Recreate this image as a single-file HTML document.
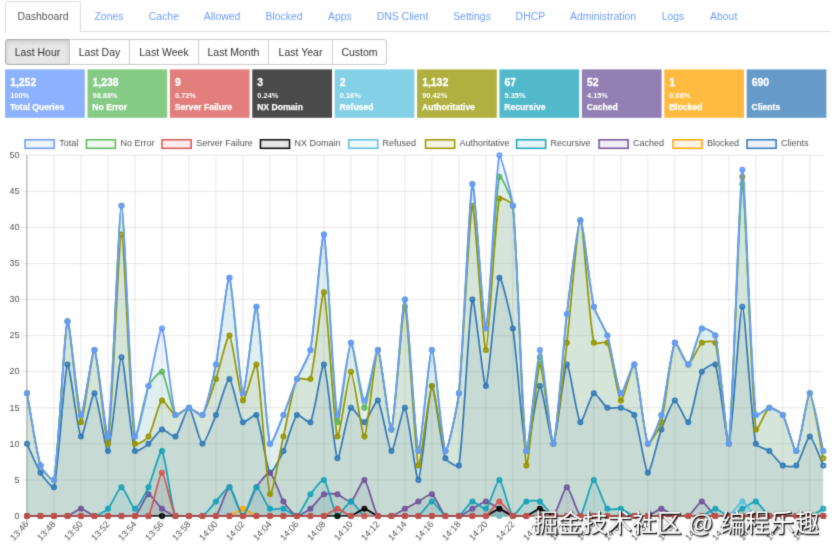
<!DOCTYPE html>
<html lang="en"><head><meta charset="utf-8"><title>Technitium DNS Server</title>
<style>
html,body{margin:0;padding:0;background:#fff;}
#page{position:absolute;left:0;top:0;width:837px;height:555px;overflow:hidden;background:#fff;filter:url(#soft);}
body{width:837px;height:555px;position:relative;overflow:hidden;font-family:"Liberation Sans","Noto Sans CJK SC",sans-serif;font-size:11px;color:#333;}
.abs{position:absolute;white-space:nowrap;}
.tabline{position:absolute;left:5px;top:31px;width:824.5px;height:1px;background:#ddd;}
.tabact{position:absolute;left:5px;top:1px;width:74px;height:30px;border:1px solid #ddd;border-bottom-color:#fff;border-radius:3px 3px 0 0;background:#fff;box-sizing:content-box;}
.tab{position:absolute;top:10px;font-size:10.45px;line-height:13px;color:#6f9dfb;white-space:nowrap;transform:translateX(-50%);}
.tab.on{color:#555;}
.btn{position:absolute;top:39px;height:26px;box-sizing:border-box;border:1px solid #ccc;background:#fff;font-size:10.5px;line-height:24.6px;text-align:center;color:#333;white-space:nowrap;}
.btn.on{background:#e6e6e6;border-color:#adadad;box-shadow:inset 0 2px 4px rgba(0,0,0,.125);}
.st{position:absolute;z-index:2;top:69.4px;height:48.4px;width:79.7px;color:#fff;font-weight:bold;}
.st .n{position:absolute;left:5.1px;top:7.6px;-webkit-text-stroke:0.3px #fff;font-size:10.4px;line-height:12px;}
.st .p{position:absolute;left:5.1px;top:21.29px;font-size:7.4px;line-height:9px;}
.st .t{-webkit-text-stroke:0.25px #fff;position:absolute;left:4.9px;top:32.27px;font-size:8.6px;line-height:10px;white-space:nowrap;}
.tk{font-size:9px;fill:#525252;font-family:"Liberation Sans",sans-serif;}
.lg{font-size:9px;fill:#525252;font-family:"Liberation Sans",sans-serif;}
.wm{position:absolute;z-index:3;left:533.5px;top:509px;font-size:24.7px;line-height:30px;color:#fff;white-space:nowrap;letter-spacing:0px;text-shadow:1px 1px 0.5px rgba(0,0,0,.9),0 0 1.5px rgba(0,0,0,.55),1.5px 1.5px 1.5px rgba(0,0,0,.4);font-family:"Liberation Sans","Noto Sans CJK SC",sans-serif;}
</style></head><body>
<svg width="0" height="0" style="position:absolute"><defs><filter id="soft" x="0" y="0" width="100%" height="100%" color-interpolation-filters="sRGB"><feConvolveMatrix order="3" kernelMatrix="0.01960 0.10080 0.01960 0.10080 0.51840 0.10080 0.01960 0.10080 0.01960" divisor="1" edgeMode="duplicate" preserveAlpha="false"/></filter></defs></svg>
<div id="page">

<div class="tabline"></div><div class="tabact"></div>
<a class="tab on" style="left:43.0px">Dashboard</a>
<a class="tab" style="left:109.0px">Zones</a>
<a class="tab" style="left:163.9px">Cache</a>
<a class="tab" style="left:222.1px">Allowed</a>
<a class="tab" style="left:284.1px">Blocked</a>
<a class="tab" style="left:339.9px">Apps</a>
<a class="tab" style="left:402.5px">DNS Client</a>
<a class="tab" style="left:472.0px">Settings</a>
<a class="tab" style="left:530.4px">DHCP</a>
<a class="tab" style="left:603.0px">Administration</a>
<a class="tab" style="left:673.0px">Logs</a>
<a class="tab" style="left:723.7px">About</a>
<div class="btn on" style="left:5.0px;width:65.0px;border-radius:3px 0 0 3px;">Last Hour</div>
<div class="btn" style="left:69.0px;width:61.0px;">Last Day</div>
<div class="btn" style="left:129.0px;width:70.0px;">Last Week</div>
<div class="btn" style="left:198.0px;width:71.0px;">Last Month</div>
<div class="btn" style="left:268.0px;width:65.0px;">Last Year</div>
<div class="btn" style="left:332.0px;width:55.0px;border-radius:0 3px 3px 0;">Custom</div>
<div class="st" style="left:5.08px"><div class="n">1,252</div><div class="p">100%</div><div class="t">Total Queries</div></div>
<div class="st" style="left:87.48px"><div class="n">1,238</div><div class="p">98.88%</div><div class="t">No Error</div></div>
<div class="st" style="left:169.88px"><div class="n">9</div><div class="p">0.72%</div><div class="t">Server Failure</div></div>
<div class="st" style="left:252.28px"><div class="n">3</div><div class="p">0.24%</div><div class="t">NX Domain</div></div>
<div class="st" style="left:334.68px"><div class="n">2</div><div class="p">0.16%</div><div class="t">Refused</div></div>
<div class="st" style="left:417.08px"><div class="n">1,132</div><div class="p">90.42%</div><div class="t">Authoritative</div></div>
<div class="st" style="left:499.48px"><div class="n">67</div><div class="p">5.35%</div><div class="t">Recursive</div></div>
<div class="st" style="left:581.88px"><div class="n">52</div><div class="p">4.15%</div><div class="t">Cached</div></div>
<div class="st" style="left:664.28px"><div class="n">1</div><div class="p">0.08%</div><div class="t">Blocked</div></div>
<div class="st" style="left:746.68px"><div class="n">690</div><div class="p"></div><div class="t">Clients</div></div>
<svg width="837" height="555" viewBox="0 0 837 555" style="position:absolute;left:0;top:0">
<defs><clipPath id="ca"><rect x="26.70" y="154.80" width="796.90" height="361.65"/></clipPath></defs>
<line x1="20.50" y1="516.00" x2="823.30" y2="516.00" stroke="rgba(0,0,0,0.12)" stroke-width="0.8"/><line x1="20.50" y1="479.92" x2="823.30" y2="479.92" stroke="rgba(0,0,0,0.12)" stroke-width="0.8"/><line x1="20.50" y1="443.84" x2="823.30" y2="443.84" stroke="rgba(0,0,0,0.12)" stroke-width="0.8"/><line x1="20.50" y1="407.76" x2="823.30" y2="407.76" stroke="rgba(0,0,0,0.12)" stroke-width="0.8"/><line x1="20.50" y1="371.68" x2="823.30" y2="371.68" stroke="rgba(0,0,0,0.12)" stroke-width="0.8"/><line x1="20.50" y1="335.60" x2="823.30" y2="335.60" stroke="rgba(0,0,0,0.12)" stroke-width="0.8"/><line x1="20.50" y1="299.52" x2="823.30" y2="299.52" stroke="rgba(0,0,0,0.12)" stroke-width="0.8"/><line x1="20.50" y1="263.44" x2="823.30" y2="263.44" stroke="rgba(0,0,0,0.12)" stroke-width="0.8"/><line x1="20.50" y1="227.36" x2="823.30" y2="227.36" stroke="rgba(0,0,0,0.12)" stroke-width="0.8"/><line x1="20.50" y1="191.28" x2="823.30" y2="191.28" stroke="rgba(0,0,0,0.12)" stroke-width="0.8"/><line x1="20.50" y1="155.20" x2="823.30" y2="155.20" stroke="rgba(0,0,0,0.12)" stroke-width="0.8"/><line x1="26.85" y1="155.20" x2="26.85" y2="523.50" stroke="rgba(0,0,0,0.3)" stroke-width="1.3"/><line x1="53.99" y1="155.20" x2="53.99" y2="523.50" stroke="rgba(0,0,0,0.12)" stroke-width="0.8"/><line x1="80.99" y1="155.20" x2="80.99" y2="523.50" stroke="rgba(0,0,0,0.12)" stroke-width="0.8"/><line x1="107.98" y1="155.20" x2="107.98" y2="523.50" stroke="rgba(0,0,0,0.12)" stroke-width="0.8"/><line x1="134.97" y1="155.20" x2="134.97" y2="523.50" stroke="rgba(0,0,0,0.12)" stroke-width="0.8"/><line x1="161.97" y1="155.20" x2="161.97" y2="523.50" stroke="rgba(0,0,0,0.12)" stroke-width="0.8"/><line x1="188.96" y1="155.20" x2="188.96" y2="523.50" stroke="rgba(0,0,0,0.12)" stroke-width="0.8"/><line x1="215.95" y1="155.20" x2="215.95" y2="523.50" stroke="rgba(0,0,0,0.12)" stroke-width="0.8"/><line x1="242.95" y1="155.20" x2="242.95" y2="523.50" stroke="rgba(0,0,0,0.12)" stroke-width="0.8"/><line x1="269.94" y1="155.20" x2="269.94" y2="523.50" stroke="rgba(0,0,0,0.12)" stroke-width="0.8"/><line x1="296.93" y1="155.20" x2="296.93" y2="523.50" stroke="rgba(0,0,0,0.12)" stroke-width="0.8"/><line x1="323.93" y1="155.20" x2="323.93" y2="523.50" stroke="rgba(0,0,0,0.12)" stroke-width="0.8"/><line x1="350.92" y1="155.20" x2="350.92" y2="523.50" stroke="rgba(0,0,0,0.12)" stroke-width="0.8"/><line x1="377.91" y1="155.20" x2="377.91" y2="523.50" stroke="rgba(0,0,0,0.12)" stroke-width="0.8"/><line x1="404.91" y1="155.20" x2="404.91" y2="523.50" stroke="rgba(0,0,0,0.12)" stroke-width="0.8"/><line x1="431.90" y1="155.20" x2="431.90" y2="523.50" stroke="rgba(0,0,0,0.12)" stroke-width="0.8"/><line x1="458.89" y1="155.20" x2="458.89" y2="523.50" stroke="rgba(0,0,0,0.12)" stroke-width="0.8"/><line x1="485.88" y1="155.20" x2="485.88" y2="523.50" stroke="rgba(0,0,0,0.12)" stroke-width="0.8"/><line x1="512.88" y1="155.20" x2="512.88" y2="523.50" stroke="rgba(0,0,0,0.12)" stroke-width="0.8"/><line x1="539.87" y1="155.20" x2="539.87" y2="523.50" stroke="rgba(0,0,0,0.12)" stroke-width="0.8"/><line x1="566.86" y1="155.20" x2="566.86" y2="523.50" stroke="rgba(0,0,0,0.12)" stroke-width="0.8"/><line x1="593.86" y1="155.20" x2="593.86" y2="523.50" stroke="rgba(0,0,0,0.12)" stroke-width="0.8"/><line x1="620.85" y1="155.20" x2="620.85" y2="523.50" stroke="rgba(0,0,0,0.12)" stroke-width="0.8"/><line x1="647.84" y1="155.20" x2="647.84" y2="523.50" stroke="rgba(0,0,0,0.12)" stroke-width="0.8"/><line x1="674.84" y1="155.20" x2="674.84" y2="523.50" stroke="rgba(0,0,0,0.12)" stroke-width="0.8"/><line x1="701.83" y1="155.20" x2="701.83" y2="523.50" stroke="rgba(0,0,0,0.12)" stroke-width="0.8"/><line x1="728.82" y1="155.20" x2="728.82" y2="523.50" stroke="rgba(0,0,0,0.12)" stroke-width="0.8"/><line x1="755.82" y1="155.20" x2="755.82" y2="523.50" stroke="rgba(0,0,0,0.12)" stroke-width="0.8"/><line x1="782.81" y1="155.20" x2="782.81" y2="523.50" stroke="rgba(0,0,0,0.12)" stroke-width="0.8"/><line x1="809.80" y1="155.20" x2="809.80" y2="523.50" stroke="rgba(0,0,0,0.12)" stroke-width="0.8"/>
<text x="19.4" y="518.7" text-anchor="end" class="tk">0</text>
<text x="19.4" y="482.6" text-anchor="end" class="tk">5</text>
<text x="19.4" y="446.5" text-anchor="end" class="tk">10</text>
<text x="19.4" y="410.5" text-anchor="end" class="tk">15</text>
<text x="19.4" y="374.4" text-anchor="end" class="tk">20</text>
<text x="19.4" y="338.3" text-anchor="end" class="tk">25</text>
<text x="19.4" y="302.2" text-anchor="end" class="tk">30</text>
<text x="19.4" y="266.1" text-anchor="end" class="tk">35</text>
<text x="19.4" y="230.1" text-anchor="end" class="tk">40</text>
<text x="19.4" y="194.0" text-anchor="end" class="tk">45</text>
<text x="19.4" y="157.9" text-anchor="end" class="tk">50</text>
<text transform="translate(29.2,524.6) rotate(-48)" text-anchor="end" class="tk">13:46</text>
<text transform="translate(56.2,524.6) rotate(-48)" text-anchor="end" class="tk">13:48</text>
<text transform="translate(83.2,524.6) rotate(-48)" text-anchor="end" class="tk">13:50</text>
<text transform="translate(110.2,524.6) rotate(-48)" text-anchor="end" class="tk">13:52</text>
<text transform="translate(137.2,524.6) rotate(-48)" text-anchor="end" class="tk">13:54</text>
<text transform="translate(164.2,524.6) rotate(-48)" text-anchor="end" class="tk">13:56</text>
<text transform="translate(191.2,524.6) rotate(-48)" text-anchor="end" class="tk">13:58</text>
<text transform="translate(218.2,524.6) rotate(-48)" text-anchor="end" class="tk">14:00</text>
<text transform="translate(245.1,524.6) rotate(-48)" text-anchor="end" class="tk">14:02</text>
<text transform="translate(272.1,524.6) rotate(-48)" text-anchor="end" class="tk">14:04</text>
<text transform="translate(299.1,524.6) rotate(-48)" text-anchor="end" class="tk">14:06</text>
<text transform="translate(326.1,524.6) rotate(-48)" text-anchor="end" class="tk">14:08</text>
<text transform="translate(353.1,524.6) rotate(-48)" text-anchor="end" class="tk">14:10</text>
<text transform="translate(380.1,524.6) rotate(-48)" text-anchor="end" class="tk">14:12</text>
<text transform="translate(407.1,524.6) rotate(-48)" text-anchor="end" class="tk">14:14</text>
<text transform="translate(434.1,524.6) rotate(-48)" text-anchor="end" class="tk">14:16</text>
<text transform="translate(461.1,524.6) rotate(-48)" text-anchor="end" class="tk">14:18</text>
<text transform="translate(488.1,524.6) rotate(-48)" text-anchor="end" class="tk">14:20</text>
<text transform="translate(515.1,524.6) rotate(-48)" text-anchor="end" class="tk">14:22</text>
<text transform="translate(542.1,524.6) rotate(-48)" text-anchor="end" class="tk">14:24</text>
<text transform="translate(569.1,524.6) rotate(-48)" text-anchor="end" class="tk">14:26</text>
<text transform="translate(596.1,524.6) rotate(-48)" text-anchor="end" class="tk">14:28</text>
<text transform="translate(623.1,524.6) rotate(-48)" text-anchor="end" class="tk">14:30</text>
<text transform="translate(650.0,524.6) rotate(-48)" text-anchor="end" class="tk">14:32</text>
<text transform="translate(677.0,524.6) rotate(-48)" text-anchor="end" class="tk">14:34</text>
<text transform="translate(704.0,524.6) rotate(-48)" text-anchor="end" class="tk">14:36</text>
<text transform="translate(731.0,524.6) rotate(-48)" text-anchor="end" class="tk">14:38</text>
<text transform="translate(758.0,524.6) rotate(-48)" text-anchor="end" class="tk">14:40</text>
<text transform="translate(785.0,524.6) rotate(-48)" text-anchor="end" class="tk">14:42</text>
<text transform="translate(812.0,524.6) rotate(-48)" text-anchor="end" class="tk">14:44</text>
<g clip-path="url(#ca)"><path d="M27.00 443.84C29.70 449.61 37.16 467.36 40.50 472.70C42.56 476.02 53.25 490.12 53.99 487.14C58.65 468.48 64.10 370.80 67.49 364.46C69.50 360.70 77.65 433.06 80.99 436.62C83.05 438.83 92.14 392.08 94.48 393.33C97.54 394.96 105.90 453.83 107.98 451.06C111.30 446.62 118.78 357.25 121.48 357.25C124.18 357.25 130.32 436.15 134.97 451.06C135.72 453.46 146.11 445.73 148.47 443.84C151.51 441.40 158.92 430.22 161.97 429.41C164.32 428.78 173.71 438.03 175.46 436.62C179.11 433.70 186.52 407.11 188.96 407.76C191.91 408.55 199.50 443.05 202.46 443.84C204.90 444.49 213.51 420.86 215.95 414.98C218.91 407.87 226.97 378.23 229.45 378.90C232.37 379.68 238.91 416.80 242.95 422.19C244.31 424.01 255.33 412.90 256.44 414.98C260.73 423.01 266.16 467.66 269.94 472.70C271.56 474.87 281.28 455.66 283.44 451.06C286.68 444.11 293.07 419.11 296.93 414.98C298.47 413.33 309.32 424.26 310.43 422.19C314.72 414.16 321.85 361.69 323.93 364.46C327.25 368.90 333.94 452.69 337.42 458.27C339.34 461.35 347.00 413.00 350.92 407.76C352.40 405.78 362.06 422.82 364.42 422.19C367.46 421.38 376.14 398.65 377.91 400.54C381.54 404.42 388.52 450.28 391.41 451.06C393.92 451.73 402.84 405.56 404.91 407.76C408.24 411.33 416.05 481.81 418.40 479.92C421.44 477.48 428.86 388.55 431.90 386.11C434.25 384.22 440.93 445.14 445.39 458.27C446.33 461.01 458.44 468.16 458.89 465.49C463.84 436.41 468.85 309.92 472.39 299.52C474.25 294.05 483.48 388.04 485.88 386.11C488.88 383.71 495.73 285.68 499.38 277.87C501.13 274.13 511.27 318.08 512.88 328.38C516.67 352.71 522.86 443.55 526.37 451.06C528.26 455.09 537.02 386.87 539.87 386.11C542.42 385.43 551.08 445.68 553.37 443.84C556.48 441.35 563.76 366.96 566.86 364.46C569.15 362.63 576.85 418.44 580.36 422.19C582.25 424.21 590.53 395.11 593.86 393.33C595.92 392.22 604.15 406.05 607.35 407.76C609.55 408.93 618.32 407.08 620.85 407.76C623.72 408.53 633.24 412.31 634.35 414.98C638.64 425.30 644.79 471.07 647.84 472.70C650.18 473.96 658.17 437.88 661.34 429.41C663.57 423.45 671.84 401.35 674.84 400.54C677.24 399.90 686.56 424.09 688.33 422.19C691.96 418.31 697.65 380.61 701.83 371.68C703.05 369.07 714.46 362.16 715.33 364.46C719.86 376.59 726.83 448.10 728.82 443.84C732.23 436.55 739.62 306.74 742.32 306.74C745.02 306.74 750.96 417.86 755.82 443.84C756.36 446.73 766.96 449.17 769.31 451.06C772.36 453.50 779.60 463.77 782.81 465.49C785.00 466.66 794.70 467.21 796.31 465.49C800.10 461.43 807.10 436.62 809.80 436.62C812.50 436.62 820.60 459.72 823.30 465.49L823.30 516.00 L27.00 516.00 Z" fill="rgba(51,122,183,0.1)"/><path d="M27.00 516.00C29.70 516.00 37.80 516.00 40.50 516.00C43.20 516.00 51.29 516.00 53.99 516.00C56.69 516.00 64.79 516.00 67.49 516.00C70.19 516.00 78.29 516.00 80.99 516.00C83.69 516.00 91.78 516.00 94.48 516.00C97.18 516.00 105.28 516.00 107.98 516.00C110.68 516.00 118.78 516.00 121.48 516.00C124.18 516.00 132.27 516.00 134.97 516.00C137.67 516.00 145.77 516.00 148.47 516.00C151.17 516.00 159.27 516.00 161.97 516.00C164.67 516.00 172.76 516.00 175.46 516.00C178.16 516.00 186.26 516.00 188.96 516.00C191.66 516.00 199.76 516.00 202.46 516.00C205.16 516.00 213.25 516.00 215.95 516.00C218.65 516.00 226.92 516.00 229.45 516.00C232.32 515.23 240.25 508.78 242.95 508.78C245.65 508.78 253.57 515.23 256.44 516.00C258.97 516.00 267.24 516.00 269.94 516.00C272.64 516.00 280.74 516.00 283.44 516.00C286.13 516.00 294.23 516.00 296.93 516.00C299.63 516.00 307.73 516.00 310.43 516.00C313.13 516.00 321.23 516.00 323.93 516.00C326.62 516.00 334.72 516.00 337.42 516.00C340.12 516.00 348.22 516.00 350.92 516.00C353.62 516.00 361.72 516.00 364.42 516.00C367.11 516.00 375.21 516.00 377.91 516.00C380.61 516.00 388.71 516.00 391.41 516.00C394.11 516.00 402.21 516.00 404.91 516.00C407.60 516.00 415.70 516.00 418.40 516.00C421.10 516.00 429.20 516.00 431.90 516.00C434.60 516.00 442.70 516.00 445.39 516.00C448.09 516.00 456.19 516.00 458.89 516.00C461.59 516.00 469.69 516.00 472.39 516.00C475.09 516.00 483.19 516.00 485.88 516.00C488.58 516.00 496.68 516.00 499.38 516.00C502.08 516.00 510.18 516.00 512.88 516.00C515.58 516.00 523.68 516.00 526.37 516.00C529.07 516.00 537.17 516.00 539.87 516.00C542.57 516.00 550.67 516.00 553.37 516.00C556.07 516.00 564.17 516.00 566.86 516.00C569.56 516.00 577.66 516.00 580.36 516.00C583.06 516.00 591.16 516.00 593.86 516.00C596.56 516.00 604.65 516.00 607.35 516.00C610.05 516.00 618.15 516.00 620.85 516.00C623.55 516.00 631.65 516.00 634.35 516.00C637.05 516.00 645.14 516.00 647.84 516.00C650.54 516.00 658.64 516.00 661.34 516.00C664.04 516.00 672.14 516.00 674.84 516.00C677.54 516.00 685.63 516.00 688.33 516.00C691.03 516.00 699.13 516.00 701.83 516.00C704.53 516.00 712.63 516.00 715.33 516.00C718.03 516.00 726.12 516.00 728.82 516.00C731.52 516.00 739.62 516.00 742.32 516.00C745.02 516.00 753.12 516.00 755.82 516.00C758.52 516.00 766.61 516.00 769.31 516.00C772.01 516.00 780.11 516.00 782.81 516.00C785.51 516.00 793.61 516.00 796.31 516.00C799.01 516.00 807.10 516.00 809.80 516.00C812.50 516.00 820.60 516.00 823.30 516.00L823.30 516.00 L27.00 516.00 Z" fill="rgba(255,165,0,0.1)"/><path d="M27.00 516.00C29.70 516.00 37.80 516.00 40.50 516.00C43.20 516.00 51.29 516.00 53.99 516.00C56.69 516.00 64.96 516.00 67.49 516.00C70.36 515.23 78.29 508.78 80.99 508.78C83.69 508.78 91.61 515.23 94.48 516.00C97.01 516.00 105.28 516.00 107.98 516.00C110.68 516.00 118.78 516.00 121.48 516.00C124.18 516.00 133.10 516.00 134.97 516.00C138.50 513.17 145.43 495.17 148.47 494.35C150.83 493.72 158.92 506.34 161.97 508.78C164.32 510.67 172.59 515.23 175.46 516.00C177.99 516.00 186.26 516.00 188.96 516.00C191.66 516.00 199.76 516.00 202.46 516.00C205.16 516.00 214.35 516.00 215.95 516.00C219.74 511.94 226.75 487.14 229.45 487.14C232.15 487.14 240.25 516.00 242.95 516.00C245.65 516.00 253.11 492.48 256.44 487.14C258.51 483.82 267.87 471.60 269.94 472.70C273.27 474.49 280.10 496.22 283.44 501.57C285.50 504.88 293.89 515.19 296.93 516.00C299.29 516.00 308.07 510.67 310.43 508.78C313.47 506.34 320.72 496.07 323.93 494.35C326.12 493.18 334.89 493.68 337.42 494.35C340.29 495.12 348.89 502.65 350.92 501.57C354.29 499.76 362.26 478.77 364.42 479.92C367.66 481.66 373.91 510.66 377.91 516.00C379.31 516.00 388.88 516.00 391.41 516.00C394.28 515.23 402.21 510.23 404.91 508.78C407.60 507.34 415.70 503.01 418.40 501.57C421.10 500.12 429.87 493.27 431.90 494.35C435.27 496.16 441.86 513.17 445.39 516.00C447.26 516.00 456.36 516.00 458.89 516.00C461.76 515.23 469.69 510.23 472.39 508.78C475.09 507.34 483.19 501.57 485.88 501.57C488.58 501.57 496.68 507.34 499.38 508.78C502.08 510.23 510.01 515.23 512.88 516.00C515.41 516.00 523.68 516.00 526.37 516.00C529.07 516.00 537.17 516.00 539.87 516.00C542.57 516.00 551.76 516.00 553.37 516.00C557.16 511.94 564.17 487.14 566.86 487.14C569.56 487.14 576.57 511.94 580.36 516.00C581.97 516.00 591.16 516.00 593.86 516.00C596.56 516.00 604.65 516.00 607.35 516.00C610.05 516.00 618.15 516.00 620.85 516.00C623.55 516.00 631.65 516.00 634.35 516.00C637.05 516.00 645.31 516.00 647.84 516.00C650.71 515.23 658.64 508.78 661.34 508.78C664.04 508.78 671.97 515.23 674.84 516.00C677.37 516.00 686.14 516.00 688.33 516.00C691.54 514.29 699.13 501.57 701.83 501.57C704.53 501.57 712.12 514.29 715.33 516.00C717.52 516.00 726.12 516.00 728.82 516.00C731.52 516.00 739.62 516.00 742.32 516.00C745.02 516.00 753.12 516.00 755.82 516.00C758.52 516.00 766.61 516.00 769.31 516.00C772.01 516.00 780.11 516.00 782.81 516.00C785.51 516.00 793.61 516.00 796.31 516.00C799.01 516.00 807.10 516.00 809.80 516.00C812.50 516.00 820.60 516.00 823.30 516.00L823.30 516.00 L27.00 516.00 Z" fill="rgba(111,84,153,0.1)"/><path d="M27.00 516.00C29.70 516.00 37.80 516.00 40.50 516.00C43.20 516.00 51.29 516.00 53.99 516.00C56.69 516.00 64.79 516.00 67.49 516.00C70.19 516.00 78.29 516.00 80.99 516.00C83.69 516.00 91.95 516.00 94.48 516.00C97.35 515.23 105.96 510.95 107.98 508.78C111.35 505.18 118.78 487.14 121.48 487.14C124.18 487.14 132.27 508.78 134.97 508.78C137.67 508.78 146.32 491.74 148.47 487.14C151.72 480.19 159.98 448.94 161.97 451.06C165.38 454.71 170.98 505.21 175.46 516.00C176.38 516.00 186.26 516.00 188.96 516.00C191.66 516.00 200.26 516.00 202.46 516.00C205.66 514.29 213.25 504.45 215.95 501.57C218.65 498.68 227.38 486.03 229.45 487.14C232.78 488.92 240.25 516.00 242.95 516.00C245.65 516.00 253.44 487.94 256.44 487.14C258.84 486.49 266.41 505.95 269.94 508.78C271.81 510.28 280.91 508.11 283.44 508.78C286.30 509.55 294.91 516.00 296.93 516.00C300.31 514.20 307.39 498.42 310.43 494.35C312.79 491.20 322.10 478.45 323.93 479.92C327.49 482.78 333.85 513.14 337.42 516.00C339.25 516.00 348.22 501.57 350.92 501.57C353.62 501.57 361.21 514.29 364.42 516.00C366.61 516.00 375.21 516.00 377.91 516.00C380.61 516.00 388.71 516.00 391.41 516.00C394.11 516.00 402.21 516.00 404.91 516.00C407.60 516.00 416.21 516.00 418.40 516.00C421.61 514.29 429.20 501.57 431.90 501.57C434.60 501.57 442.19 514.29 445.39 516.00C447.59 516.00 456.70 516.00 458.89 516.00C462.10 514.29 469.35 502.38 472.39 501.57C474.74 500.94 484.13 510.19 485.88 508.78C489.53 505.86 496.94 479.27 499.38 479.92C502.34 480.71 509.31 513.14 512.88 516.00C514.71 516.00 523.17 503.28 526.37 501.57C528.57 500.40 537.68 500.40 539.87 501.57C543.08 503.28 550.16 514.29 553.37 516.00C555.56 516.00 564.17 516.00 566.86 516.00C569.56 516.00 578.96 516.00 580.36 516.00C584.36 510.66 590.90 480.71 593.86 479.92C596.30 479.27 603.56 504.73 607.35 508.78C608.96 510.50 618.32 508.11 620.85 508.78C623.72 509.55 631.48 515.23 634.35 516.00C636.88 516.00 645.14 516.00 647.84 516.00C650.54 516.00 658.64 516.00 661.34 516.00C664.04 516.00 672.14 516.00 674.84 516.00C677.54 516.00 685.63 516.00 688.33 516.00C691.03 516.00 699.30 516.00 701.83 516.00C704.70 515.23 712.63 508.78 715.33 508.78C718.03 508.78 726.12 516.00 728.82 516.00C731.52 516.00 739.62 510.23 742.32 508.78C745.02 507.34 753.46 500.94 755.82 501.57C758.86 502.38 766.11 514.29 769.31 516.00C771.50 516.00 780.11 516.00 782.81 516.00C785.51 516.00 793.61 516.00 796.31 516.00C799.01 516.00 807.27 516.00 809.80 516.00C812.67 515.23 820.60 510.23 823.30 508.78L823.30 516.00 L27.00 516.00 Z" fill="rgba(23,162,184,0.1)"/><path d="M27.00 393.33C29.70 407.76 36.24 451.84 40.50 465.49C41.64 469.16 53.40 483.10 53.99 479.92C58.80 454.24 64.20 328.21 67.49 321.17C69.60 316.66 77.85 418.84 80.99 422.19C83.25 424.61 92.13 348.14 94.48 350.03C97.53 352.47 106.30 451.03 107.98 443.84C111.70 427.94 118.78 234.58 121.48 234.58C124.18 234.58 129.94 406.18 134.97 443.84C135.34 446.59 146.93 439.09 148.47 436.62C152.33 430.43 158.40 403.41 161.97 400.54C163.80 399.08 172.42 414.16 175.46 414.98C177.82 415.61 186.26 407.76 188.96 407.76C191.66 407.76 200.92 416.62 202.46 414.98C206.32 410.84 213.47 386.19 215.95 378.90C218.87 370.31 227.26 333.84 229.45 335.60C232.66 338.17 239.53 396.89 242.95 400.54C244.93 402.66 255.21 360.19 256.44 364.46C260.61 378.95 266.23 484.43 269.94 494.35C271.62 498.86 280.74 448.17 283.44 436.62C286.13 425.08 292.53 388.30 296.93 378.90C297.93 376.75 309.71 381.21 310.43 378.90C315.11 363.89 321.89 287.95 323.93 292.30C327.29 299.50 333.72 425.73 337.42 436.62C339.12 441.61 348.22 371.68 350.92 371.68C353.62 371.68 362.09 438.49 364.42 436.62C367.49 434.16 375.10 350.78 377.91 350.03C380.50 349.34 389.28 432.83 391.41 429.41C394.68 424.17 402.55 303.59 404.91 306.74C407.95 310.80 414.82 454.94 418.40 465.49C420.21 470.82 428.94 387.69 431.90 386.11C434.34 384.81 442.54 450.29 445.39 451.06C447.94 451.74 457.60 405.09 458.89 393.33C463.00 356.02 469.34 210.60 472.39 205.71C474.74 201.94 483.25 350.74 485.88 350.03C488.65 349.29 494.48 224.72 499.38 198.50C499.87 195.86 512.58 202.74 512.88 205.71C517.98 256.14 522.50 442.68 526.37 465.49C527.89 474.43 536.86 366.88 539.87 364.46C542.25 362.55 550.99 445.75 553.37 443.84C556.38 441.42 564.42 363.05 566.86 342.82C569.82 318.31 577.66 220.14 580.36 220.14C583.06 220.14 588.99 320.70 593.86 342.82C594.39 345.23 606.35 340.67 607.35 342.82C611.75 352.22 617.58 397.92 620.85 400.54C622.98 402.25 632.60 361.66 634.35 364.46C638.00 370.32 643.74 435.07 647.84 443.84C649.14 446.62 660.04 427.05 661.34 422.19C665.44 406.85 670.74 351.58 674.84 342.82C676.14 340.04 685.63 364.46 688.33 364.46C691.03 364.46 698.30 345.65 701.83 342.82C703.70 341.32 714.70 340.45 715.33 342.82C720.09 360.66 727.33 453.00 728.82 443.84C732.73 419.81 739.55 178.33 742.32 176.85C744.94 175.44 750.91 387.46 755.82 429.41C756.31 433.64 765.94 409.56 769.31 407.76C771.34 406.68 781.28 412.51 782.81 414.98C786.67 421.17 794.18 452.76 796.31 451.06C799.58 448.43 807.26 392.65 809.80 393.33C812.65 394.09 820.60 445.28 823.30 458.27L823.30 516.00 L27.00 516.00 Z" fill="rgba(150,150,0,0.1)"/><path d="M27.00 516.00C29.70 516.00 37.80 516.00 40.50 516.00C43.20 516.00 51.29 516.00 53.99 516.00C56.69 516.00 64.79 516.00 67.49 516.00C70.19 516.00 78.29 516.00 80.99 516.00C83.69 516.00 91.78 516.00 94.48 516.00C97.18 516.00 105.28 516.00 107.98 516.00C110.68 516.00 118.78 516.00 121.48 516.00C124.18 516.00 132.27 516.00 134.97 516.00C137.67 516.00 145.77 516.00 148.47 516.00C151.17 516.00 159.27 516.00 161.97 516.00C164.67 516.00 172.76 516.00 175.46 516.00C178.16 516.00 186.26 516.00 188.96 516.00C191.66 516.00 199.76 516.00 202.46 516.00C205.16 516.00 213.25 516.00 215.95 516.00C218.65 516.00 226.75 516.00 229.45 516.00C232.15 516.00 240.25 516.00 242.95 516.00C245.65 516.00 253.74 516.00 256.44 516.00C259.14 516.00 267.24 516.00 269.94 516.00C272.64 516.00 280.74 516.00 283.44 516.00C286.13 516.00 294.23 516.00 296.93 516.00C299.63 516.00 307.73 516.00 310.43 516.00C313.13 516.00 321.23 516.00 323.93 516.00C326.62 516.00 334.72 516.00 337.42 516.00C340.12 516.00 348.22 516.00 350.92 516.00C353.62 516.00 361.72 516.00 364.42 516.00C367.11 516.00 375.21 516.00 377.91 516.00C380.61 516.00 388.71 516.00 391.41 516.00C394.11 516.00 402.21 516.00 404.91 516.00C407.60 516.00 415.70 516.00 418.40 516.00C421.10 516.00 429.20 516.00 431.90 516.00C434.60 516.00 442.70 516.00 445.39 516.00C448.09 516.00 456.19 516.00 458.89 516.00C461.59 516.00 469.69 516.00 472.39 516.00C475.09 516.00 483.19 516.00 485.88 516.00C488.58 516.00 496.68 516.00 499.38 516.00C502.08 516.00 510.18 516.00 512.88 516.00C515.58 516.00 523.68 516.00 526.37 516.00C529.07 516.00 537.17 516.00 539.87 516.00C542.57 516.00 550.67 516.00 553.37 516.00C556.07 516.00 564.17 516.00 566.86 516.00C569.56 516.00 577.66 516.00 580.36 516.00C583.06 516.00 591.16 516.00 593.86 516.00C596.56 516.00 604.65 516.00 607.35 516.00C610.05 516.00 618.15 516.00 620.85 516.00C623.55 516.00 631.65 516.00 634.35 516.00C637.05 516.00 645.14 516.00 647.84 516.00C650.54 516.00 658.64 516.00 661.34 516.00C664.04 516.00 672.14 516.00 674.84 516.00C677.54 516.00 685.63 516.00 688.33 516.00C691.03 516.00 699.13 516.00 701.83 516.00C704.53 516.00 712.63 516.00 715.33 516.00C718.03 516.00 726.63 516.00 728.82 516.00C732.03 514.29 739.62 501.57 742.32 501.57C745.02 501.57 752.61 514.29 755.82 516.00C758.01 516.00 766.61 516.00 769.31 516.00C772.01 516.00 780.11 516.00 782.81 516.00C785.51 516.00 793.61 516.00 796.31 516.00C799.01 516.00 807.10 516.00 809.80 516.00C812.50 516.00 820.60 516.00 823.30 516.00L823.30 516.00 L27.00 516.00 Z" fill="rgba(91,192,222,0.1)"/><path d="M27.00 516.00C29.70 516.00 37.80 516.00 40.50 516.00C43.20 516.00 51.29 516.00 53.99 516.00C56.69 516.00 64.79 516.00 67.49 516.00C70.19 516.00 78.29 516.00 80.99 516.00C83.69 516.00 91.78 516.00 94.48 516.00C97.18 516.00 105.28 516.00 107.98 516.00C110.68 516.00 118.78 516.00 121.48 516.00C124.18 516.00 132.27 516.00 134.97 516.00C137.67 516.00 145.77 516.00 148.47 516.00C151.17 516.00 159.27 516.00 161.97 516.00C164.67 516.00 172.76 516.00 175.46 516.00C178.16 516.00 186.26 516.00 188.96 516.00C191.66 516.00 199.76 516.00 202.46 516.00C205.16 516.00 213.25 516.00 215.95 516.00C218.65 516.00 226.75 516.00 229.45 516.00C232.15 516.00 240.25 516.00 242.95 516.00C245.65 516.00 253.74 516.00 256.44 516.00C259.14 516.00 267.24 516.00 269.94 516.00C272.64 516.00 280.74 516.00 283.44 516.00C286.13 516.00 294.23 516.00 296.93 516.00C299.63 516.00 307.73 516.00 310.43 516.00C313.13 516.00 321.23 516.00 323.93 516.00C326.62 516.00 334.72 516.00 337.42 516.00C340.12 516.00 348.39 516.00 350.92 516.00C353.79 515.23 361.72 508.78 364.42 508.78C367.11 508.78 375.04 515.23 377.91 516.00C380.44 516.00 388.71 516.00 391.41 516.00C394.11 516.00 402.21 516.00 404.91 516.00C407.60 516.00 415.70 516.00 418.40 516.00C421.10 516.00 429.20 516.00 431.90 516.00C434.60 516.00 442.70 516.00 445.39 516.00C448.09 516.00 456.19 516.00 458.89 516.00C461.59 516.00 469.69 516.00 472.39 516.00C475.09 516.00 483.35 516.00 485.88 516.00C488.75 515.23 496.68 508.78 499.38 508.78C502.08 508.78 510.01 515.23 512.88 516.00C515.41 516.00 523.84 516.00 526.37 516.00C529.24 515.23 537.17 508.78 539.87 508.78C542.57 508.78 550.50 515.23 553.37 516.00C555.90 516.00 564.17 516.00 566.86 516.00C569.56 516.00 577.66 516.00 580.36 516.00C583.06 516.00 591.16 516.00 593.86 516.00C596.56 516.00 604.65 516.00 607.35 516.00C610.05 516.00 618.15 516.00 620.85 516.00C623.55 516.00 631.65 516.00 634.35 516.00C637.05 516.00 645.14 516.00 647.84 516.00C650.54 516.00 658.64 516.00 661.34 516.00C664.04 516.00 672.14 516.00 674.84 516.00C677.54 516.00 685.63 516.00 688.33 516.00C691.03 516.00 699.13 516.00 701.83 516.00C704.53 516.00 712.63 516.00 715.33 516.00C718.03 516.00 726.12 516.00 728.82 516.00C731.52 516.00 739.62 516.00 742.32 516.00C745.02 516.00 753.12 516.00 755.82 516.00C758.52 516.00 766.61 516.00 769.31 516.00C772.01 516.00 780.11 516.00 782.81 516.00C785.51 516.00 793.61 516.00 796.31 516.00C799.01 516.00 807.10 516.00 809.80 516.00C812.50 516.00 820.60 516.00 823.30 516.00L823.30 516.00 L27.00 516.00 Z" fill="rgba(7,7,7,0.1)"/><path d="M27.00 516.00C29.70 516.00 37.80 516.00 40.50 516.00C43.20 516.00 51.29 516.00 53.99 516.00C56.69 516.00 64.79 516.00 67.49 516.00C70.19 516.00 78.29 516.00 80.99 516.00C83.69 516.00 91.78 516.00 94.48 516.00C97.18 516.00 105.28 516.00 107.98 516.00C110.68 516.00 118.78 516.00 121.48 516.00C124.18 516.00 132.27 516.00 134.97 516.00C137.67 516.00 147.23 516.00 148.47 516.00C152.63 509.33 159.27 472.70 161.97 472.70C164.67 472.70 171.30 509.33 175.46 516.00C176.70 516.00 186.26 516.00 188.96 516.00C191.66 516.00 199.76 516.00 202.46 516.00C205.16 516.00 213.25 516.00 215.95 516.00C218.65 516.00 226.75 516.00 229.45 516.00C232.15 516.00 240.25 516.00 242.95 516.00C245.65 516.00 253.74 516.00 256.44 516.00C259.14 516.00 267.24 516.00 269.94 516.00C272.64 516.00 280.74 516.00 283.44 516.00C286.13 516.00 294.23 516.00 296.93 516.00C299.63 516.00 307.73 516.00 310.43 516.00C313.13 516.00 321.40 516.00 323.93 516.00C326.79 515.23 334.72 508.78 337.42 508.78C340.12 508.78 348.05 515.23 350.92 516.00C353.45 516.00 361.72 516.00 364.42 516.00C367.11 516.00 375.21 516.00 377.91 516.00C380.61 516.00 388.71 516.00 391.41 516.00C394.11 516.00 402.21 516.00 404.91 516.00C407.60 516.00 415.70 516.00 418.40 516.00C421.10 516.00 429.20 516.00 431.90 516.00C434.60 516.00 442.70 516.00 445.39 516.00C448.09 516.00 456.19 516.00 458.89 516.00C461.59 516.00 469.69 516.00 472.39 516.00C475.09 516.00 483.69 516.00 485.88 516.00C489.09 514.29 496.68 501.57 499.38 501.57C502.08 501.57 509.67 514.29 512.88 516.00C515.07 516.00 523.68 516.00 526.37 516.00C529.07 516.00 537.17 516.00 539.87 516.00C542.57 516.00 550.67 516.00 553.37 516.00C556.07 516.00 564.17 516.00 566.86 516.00C569.56 516.00 577.66 516.00 580.36 516.00C583.06 516.00 591.16 516.00 593.86 516.00C596.56 516.00 604.65 516.00 607.35 516.00C610.05 516.00 618.15 516.00 620.85 516.00C623.55 516.00 631.65 516.00 634.35 516.00C637.05 516.00 645.14 516.00 647.84 516.00C650.54 516.00 658.64 516.00 661.34 516.00C664.04 516.00 672.14 516.00 674.84 516.00C677.54 516.00 685.63 516.00 688.33 516.00C691.03 516.00 699.13 516.00 701.83 516.00C704.53 516.00 712.63 516.00 715.33 516.00C718.03 516.00 726.12 516.00 728.82 516.00C731.52 516.00 739.62 516.00 742.32 516.00C745.02 516.00 753.12 516.00 755.82 516.00C758.52 516.00 766.61 516.00 769.31 516.00C772.01 516.00 780.11 516.00 782.81 516.00C785.51 516.00 793.61 516.00 796.31 516.00C799.01 516.00 807.10 516.00 809.80 516.00C812.50 516.00 820.60 516.00 823.30 516.00L823.30 516.00 L27.00 516.00 Z" fill="rgba(217,83,79,0.1)"/><path d="M27.00 393.33C29.70 407.76 36.24 451.84 40.50 465.49C41.64 469.16 53.40 483.10 53.99 479.92C58.80 454.24 64.10 329.31 67.49 321.17C69.50 316.32 77.81 411.58 80.99 414.98C83.21 417.35 92.16 348.17 94.48 350.03C97.56 352.50 106.50 444.56 107.98 436.62C111.89 415.69 118.78 205.71 121.48 205.71C124.18 205.71 130.57 407.20 134.97 436.62C135.97 443.28 144.55 395.54 148.47 386.11C149.95 382.55 160.33 369.93 161.97 371.68C165.73 375.70 171.43 409.58 175.46 414.98C176.82 416.80 186.26 407.76 188.96 407.76C191.66 407.76 201.23 416.94 202.46 414.98C206.63 408.28 213.94 374.71 215.95 364.46C219.33 347.29 227.13 275.39 229.45 277.87C232.53 281.16 239.87 390.04 242.95 393.33C245.27 395.81 254.34 302.81 256.44 306.74C259.74 312.91 265.55 426.26 269.94 443.84C270.95 447.91 280.99 420.86 283.44 414.98C286.39 407.87 293.98 386.00 296.93 378.90C299.38 373.02 309.27 356.24 310.43 350.03C314.67 327.38 321.86 229.06 323.93 234.58C327.26 243.50 333.64 407.03 337.42 422.19C339.04 428.68 347.96 344.40 350.92 342.82C353.36 341.51 361.56 407.00 364.42 407.76C366.96 408.44 375.62 348.20 377.91 350.03C381.02 352.53 389.35 433.26 391.41 429.41C394.75 423.16 402.41 297.52 404.91 299.52C407.81 301.85 415.17 445.01 418.40 451.06C420.57 455.11 429.20 350.03 431.90 350.03C434.60 350.03 441.98 445.58 445.39 451.06C447.38 454.24 457.70 405.10 458.89 393.33C463.10 351.70 469.20 191.74 472.39 184.06C474.59 178.76 483.25 329.09 485.88 328.38C488.65 327.64 494.92 197.13 499.38 176.85C500.32 172.60 512.26 199.42 512.88 205.71C517.66 254.26 522.48 429.18 526.37 451.06C527.88 459.49 537.07 358.00 539.87 357.25C542.46 356.55 551.20 447.32 553.37 443.84C556.60 438.66 563.74 339.88 566.86 313.95C569.13 295.14 577.56 220.89 580.36 220.14C582.95 219.45 589.90 289.80 593.86 306.74C595.30 312.89 605.47 329.55 607.35 335.60C610.87 346.86 617.34 389.57 620.85 393.33C622.74 395.35 632.82 361.60 634.35 364.46C638.22 371.70 643.98 436.60 647.84 443.84C649.37 446.70 659.71 421.09 661.34 414.98C665.11 400.89 670.83 350.31 674.84 342.82C676.23 340.21 686.18 365.61 688.33 364.46C691.58 362.73 697.97 332.52 701.83 328.38C703.37 326.74 714.66 332.76 715.33 335.60C720.06 355.85 727.23 452.79 728.82 443.84C732.63 422.49 739.46 187.12 742.32 184.06C744.86 181.35 750.75 373.01 755.82 414.98C756.15 417.75 766.61 407.76 769.31 407.76C772.01 407.76 781.28 412.51 782.81 414.98C786.67 421.17 794.18 452.76 796.31 451.06C799.58 448.43 807.10 393.33 809.80 393.33C812.50 393.33 820.60 439.51 823.30 451.06L823.30 516.00 L27.00 516.00 Z" fill="rgba(92,184,92,0.1)"/><path d="M27.00 393.33C29.70 407.76 36.24 451.84 40.50 465.49C41.64 469.16 53.40 483.10 53.99 479.92C58.80 454.24 64.10 329.31 67.49 321.17C69.50 316.32 77.81 411.58 80.99 414.98C83.21 417.35 92.16 348.17 94.48 350.03C97.56 352.50 106.50 444.56 107.98 436.62C111.89 415.69 118.78 205.71 121.48 205.71C124.18 205.71 130.57 407.20 134.97 436.62C135.97 443.28 145.94 396.26 148.47 386.11C151.34 374.61 159.79 326.05 161.97 328.38C165.19 331.83 170.87 401.46 175.46 414.98C176.27 417.34 186.26 407.76 188.96 407.76C191.66 407.76 201.23 416.94 202.46 414.98C206.63 408.28 213.94 374.71 215.95 364.46C219.33 347.29 227.13 275.39 229.45 277.87C232.53 281.16 239.87 390.04 242.95 393.33C245.27 395.81 254.34 302.81 256.44 306.74C259.74 312.91 265.55 426.26 269.94 443.84C270.95 447.91 280.99 420.86 283.44 414.98C286.39 407.87 293.98 386.00 296.93 378.90C299.38 373.02 309.27 356.24 310.43 350.03C314.67 327.38 321.81 229.49 323.93 234.58C327.21 242.48 333.58 399.58 337.42 414.98C338.98 421.22 347.93 344.41 350.92 342.82C353.33 341.53 361.55 399.78 364.42 400.54C366.95 401.22 375.79 347.76 377.91 350.03C381.19 353.53 389.35 433.26 391.41 429.41C394.75 423.16 402.41 297.52 404.91 299.52C407.81 301.85 415.17 445.01 418.40 451.06C420.57 455.11 429.20 350.03 431.90 350.03C434.60 350.03 441.98 445.58 445.39 451.06C447.38 454.24 457.70 405.10 458.89 393.33C463.10 351.70 469.20 191.74 472.39 184.06C474.59 178.76 483.43 331.01 485.88 328.38C488.83 325.24 495.23 174.06 499.38 155.20C500.63 155.20 511.93 195.33 512.88 205.71C517.33 254.50 522.56 430.65 526.37 451.06C527.96 459.52 537.07 350.78 539.87 350.03C542.47 349.34 551.10 446.87 553.37 443.84C556.50 439.66 563.74 339.88 566.86 313.95C569.13 295.14 577.56 220.89 580.36 220.14C582.95 219.45 589.90 289.80 593.86 306.74C595.30 312.89 605.47 329.55 607.35 335.60C610.87 346.86 617.34 389.57 620.85 393.33C622.74 395.35 632.82 361.60 634.35 364.46C638.22 371.70 643.98 436.60 647.84 443.84C649.37 446.70 659.71 421.09 661.34 414.98C665.11 400.89 670.83 350.31 674.84 342.82C676.23 340.21 686.18 365.61 688.33 364.46C691.58 362.73 697.97 332.52 701.83 328.38C703.37 326.74 714.66 332.76 715.33 335.60C720.06 355.85 727.29 453.28 728.82 443.84C732.69 420.08 739.47 172.68 742.32 169.63C744.87 166.91 750.73 370.14 755.82 414.98C756.13 417.77 766.61 407.76 769.31 407.76C772.01 407.76 781.28 412.51 782.81 414.98C786.67 421.17 794.18 452.76 796.31 451.06C799.58 448.43 807.10 393.33 809.80 393.33C812.50 393.33 820.60 439.51 823.30 451.06L823.30 516.00 L27.00 516.00 Z" fill="rgba(102,153,255,0.1)"/></g>
<path clip-path="url(#ca)" d="M27.00 443.84C29.70 449.61 37.16 467.36 40.50 472.70C42.56 476.02 53.25 490.12 53.99 487.14C58.65 468.48 64.10 370.80 67.49 364.46C69.50 360.70 77.65 433.06 80.99 436.62C83.05 438.83 92.14 392.08 94.48 393.33C97.54 394.96 105.90 453.83 107.98 451.06C111.30 446.62 118.78 357.25 121.48 357.25C124.18 357.25 130.32 436.15 134.97 451.06C135.72 453.46 146.11 445.73 148.47 443.84C151.51 441.40 158.92 430.22 161.97 429.41C164.32 428.78 173.71 438.03 175.46 436.62C179.11 433.70 186.52 407.11 188.96 407.76C191.91 408.55 199.50 443.05 202.46 443.84C204.90 444.49 213.51 420.86 215.95 414.98C218.91 407.87 226.97 378.23 229.45 378.90C232.37 379.68 238.91 416.80 242.95 422.19C244.31 424.01 255.33 412.90 256.44 414.98C260.73 423.01 266.16 467.66 269.94 472.70C271.56 474.87 281.28 455.66 283.44 451.06C286.68 444.11 293.07 419.11 296.93 414.98C298.47 413.33 309.32 424.26 310.43 422.19C314.72 414.16 321.85 361.69 323.93 364.46C327.25 368.90 333.94 452.69 337.42 458.27C339.34 461.35 347.00 413.00 350.92 407.76C352.40 405.78 362.06 422.82 364.42 422.19C367.46 421.38 376.14 398.65 377.91 400.54C381.54 404.42 388.52 450.28 391.41 451.06C393.92 451.73 402.84 405.56 404.91 407.76C408.24 411.33 416.05 481.81 418.40 479.92C421.44 477.48 428.86 388.55 431.90 386.11C434.25 384.22 440.93 445.14 445.39 458.27C446.33 461.01 458.44 468.16 458.89 465.49C463.84 436.41 468.85 309.92 472.39 299.52C474.25 294.05 483.48 388.04 485.88 386.11C488.88 383.71 495.73 285.68 499.38 277.87C501.13 274.13 511.27 318.08 512.88 328.38C516.67 352.71 522.86 443.55 526.37 451.06C528.26 455.09 537.02 386.87 539.87 386.11C542.42 385.43 551.08 445.68 553.37 443.84C556.48 441.35 563.76 366.96 566.86 364.46C569.15 362.63 576.85 418.44 580.36 422.19C582.25 424.21 590.53 395.11 593.86 393.33C595.92 392.22 604.15 406.05 607.35 407.76C609.55 408.93 618.32 407.08 620.85 407.76C623.72 408.53 633.24 412.31 634.35 414.98C638.64 425.30 644.79 471.07 647.84 472.70C650.18 473.96 658.17 437.88 661.34 429.41C663.57 423.45 671.84 401.35 674.84 400.54C677.24 399.90 686.56 424.09 688.33 422.19C691.96 418.31 697.65 380.61 701.83 371.68C703.05 369.07 714.46 362.16 715.33 364.46C719.86 376.59 726.83 448.10 728.82 443.84C732.23 436.55 739.62 306.74 742.32 306.74C745.02 306.74 750.96 417.86 755.82 443.84C756.36 446.73 766.96 449.17 769.31 451.06C772.36 453.50 779.60 463.77 782.81 465.49C785.00 466.66 794.70 467.21 796.31 465.49C800.10 461.43 807.10 436.62 809.80 436.62C812.50 436.62 820.60 459.72 823.30 465.49" fill="none" stroke="rgb(51,122,183)" stroke-width="1.75" stroke-linejoin="round"/>
<g fill="rgba(51,122,183,0.5)" stroke="rgb(51,122,183)" stroke-width="1.6"><circle cx="27.00" cy="443.84" r="2.2"/><circle cx="40.50" cy="472.70" r="2.2"/><circle cx="53.99" cy="487.14" r="2.2"/><circle cx="67.49" cy="364.46" r="2.2"/><circle cx="80.99" cy="436.62" r="2.2"/><circle cx="94.48" cy="393.33" r="2.2"/><circle cx="107.98" cy="451.06" r="2.2"/><circle cx="121.48" cy="357.25" r="2.2"/><circle cx="134.97" cy="451.06" r="2.2"/><circle cx="148.47" cy="443.84" r="2.2"/><circle cx="161.97" cy="429.41" r="2.2"/><circle cx="175.46" cy="436.62" r="2.2"/><circle cx="188.96" cy="407.76" r="2.2"/><circle cx="202.46" cy="443.84" r="2.2"/><circle cx="215.95" cy="414.98" r="2.2"/><circle cx="229.45" cy="378.90" r="2.2"/><circle cx="242.95" cy="422.19" r="2.2"/><circle cx="256.44" cy="414.98" r="2.2"/><circle cx="269.94" cy="472.70" r="2.2"/><circle cx="283.44" cy="451.06" r="2.2"/><circle cx="296.93" cy="414.98" r="2.2"/><circle cx="310.43" cy="422.19" r="2.2"/><circle cx="323.93" cy="364.46" r="2.2"/><circle cx="337.42" cy="458.27" r="2.2"/><circle cx="350.92" cy="407.76" r="2.2"/><circle cx="364.42" cy="422.19" r="2.2"/><circle cx="377.91" cy="400.54" r="2.2"/><circle cx="391.41" cy="451.06" r="2.2"/><circle cx="404.91" cy="407.76" r="2.2"/><circle cx="418.40" cy="479.92" r="2.2"/><circle cx="431.90" cy="386.11" r="2.2"/><circle cx="445.39" cy="458.27" r="2.2"/><circle cx="458.89" cy="465.49" r="2.2"/><circle cx="472.39" cy="299.52" r="2.2"/><circle cx="485.88" cy="386.11" r="2.2"/><circle cx="499.38" cy="277.87" r="2.2"/><circle cx="512.88" cy="328.38" r="2.2"/><circle cx="526.37" cy="451.06" r="2.2"/><circle cx="539.87" cy="386.11" r="2.2"/><circle cx="553.37" cy="443.84" r="2.2"/><circle cx="566.86" cy="364.46" r="2.2"/><circle cx="580.36" cy="422.19" r="2.2"/><circle cx="593.86" cy="393.33" r="2.2"/><circle cx="607.35" cy="407.76" r="2.2"/><circle cx="620.85" cy="407.76" r="2.2"/><circle cx="634.35" cy="414.98" r="2.2"/><circle cx="647.84" cy="472.70" r="2.2"/><circle cx="661.34" cy="429.41" r="2.2"/><circle cx="674.84" cy="400.54" r="2.2"/><circle cx="688.33" cy="422.19" r="2.2"/><circle cx="701.83" cy="371.68" r="2.2"/><circle cx="715.33" cy="364.46" r="2.2"/><circle cx="728.82" cy="443.84" r="2.2"/><circle cx="742.32" cy="306.74" r="2.2"/><circle cx="755.82" cy="443.84" r="2.2"/><circle cx="769.31" cy="451.06" r="2.2"/><circle cx="782.81" cy="465.49" r="2.2"/><circle cx="796.31" cy="465.49" r="2.2"/><circle cx="809.80" cy="436.62" r="2.2"/><circle cx="823.30" cy="465.49" r="2.2"/></g>
<path clip-path="url(#ca)" d="M27.00 516.00C29.70 516.00 37.80 516.00 40.50 516.00C43.20 516.00 51.29 516.00 53.99 516.00C56.69 516.00 64.79 516.00 67.49 516.00C70.19 516.00 78.29 516.00 80.99 516.00C83.69 516.00 91.78 516.00 94.48 516.00C97.18 516.00 105.28 516.00 107.98 516.00C110.68 516.00 118.78 516.00 121.48 516.00C124.18 516.00 132.27 516.00 134.97 516.00C137.67 516.00 145.77 516.00 148.47 516.00C151.17 516.00 159.27 516.00 161.97 516.00C164.67 516.00 172.76 516.00 175.46 516.00C178.16 516.00 186.26 516.00 188.96 516.00C191.66 516.00 199.76 516.00 202.46 516.00C205.16 516.00 213.25 516.00 215.95 516.00C218.65 516.00 226.92 516.00 229.45 516.00C232.32 515.23 240.25 508.78 242.95 508.78C245.65 508.78 253.57 515.23 256.44 516.00C258.97 516.00 267.24 516.00 269.94 516.00C272.64 516.00 280.74 516.00 283.44 516.00C286.13 516.00 294.23 516.00 296.93 516.00C299.63 516.00 307.73 516.00 310.43 516.00C313.13 516.00 321.23 516.00 323.93 516.00C326.62 516.00 334.72 516.00 337.42 516.00C340.12 516.00 348.22 516.00 350.92 516.00C353.62 516.00 361.72 516.00 364.42 516.00C367.11 516.00 375.21 516.00 377.91 516.00C380.61 516.00 388.71 516.00 391.41 516.00C394.11 516.00 402.21 516.00 404.91 516.00C407.60 516.00 415.70 516.00 418.40 516.00C421.10 516.00 429.20 516.00 431.90 516.00C434.60 516.00 442.70 516.00 445.39 516.00C448.09 516.00 456.19 516.00 458.89 516.00C461.59 516.00 469.69 516.00 472.39 516.00C475.09 516.00 483.19 516.00 485.88 516.00C488.58 516.00 496.68 516.00 499.38 516.00C502.08 516.00 510.18 516.00 512.88 516.00C515.58 516.00 523.68 516.00 526.37 516.00C529.07 516.00 537.17 516.00 539.87 516.00C542.57 516.00 550.67 516.00 553.37 516.00C556.07 516.00 564.17 516.00 566.86 516.00C569.56 516.00 577.66 516.00 580.36 516.00C583.06 516.00 591.16 516.00 593.86 516.00C596.56 516.00 604.65 516.00 607.35 516.00C610.05 516.00 618.15 516.00 620.85 516.00C623.55 516.00 631.65 516.00 634.35 516.00C637.05 516.00 645.14 516.00 647.84 516.00C650.54 516.00 658.64 516.00 661.34 516.00C664.04 516.00 672.14 516.00 674.84 516.00C677.54 516.00 685.63 516.00 688.33 516.00C691.03 516.00 699.13 516.00 701.83 516.00C704.53 516.00 712.63 516.00 715.33 516.00C718.03 516.00 726.12 516.00 728.82 516.00C731.52 516.00 739.62 516.00 742.32 516.00C745.02 516.00 753.12 516.00 755.82 516.00C758.52 516.00 766.61 516.00 769.31 516.00C772.01 516.00 780.11 516.00 782.81 516.00C785.51 516.00 793.61 516.00 796.31 516.00C799.01 516.00 807.10 516.00 809.80 516.00C812.50 516.00 820.60 516.00 823.30 516.00" fill="none" stroke="rgb(255,165,0)" stroke-width="1.75" stroke-linejoin="round"/>
<g fill="rgba(255,165,0,0.5)" stroke="rgb(255,165,0)" stroke-width="1.6"><circle cx="27.00" cy="516.00" r="2.2"/><circle cx="40.50" cy="516.00" r="2.2"/><circle cx="53.99" cy="516.00" r="2.2"/><circle cx="67.49" cy="516.00" r="2.2"/><circle cx="80.99" cy="516.00" r="2.2"/><circle cx="94.48" cy="516.00" r="2.2"/><circle cx="107.98" cy="516.00" r="2.2"/><circle cx="121.48" cy="516.00" r="2.2"/><circle cx="134.97" cy="516.00" r="2.2"/><circle cx="148.47" cy="516.00" r="2.2"/><circle cx="161.97" cy="516.00" r="2.2"/><circle cx="175.46" cy="516.00" r="2.2"/><circle cx="188.96" cy="516.00" r="2.2"/><circle cx="202.46" cy="516.00" r="2.2"/><circle cx="215.95" cy="516.00" r="2.2"/><circle cx="229.45" cy="516.00" r="2.2"/><circle cx="242.95" cy="508.78" r="2.2"/><circle cx="256.44" cy="516.00" r="2.2"/><circle cx="269.94" cy="516.00" r="2.2"/><circle cx="283.44" cy="516.00" r="2.2"/><circle cx="296.93" cy="516.00" r="2.2"/><circle cx="310.43" cy="516.00" r="2.2"/><circle cx="323.93" cy="516.00" r="2.2"/><circle cx="337.42" cy="516.00" r="2.2"/><circle cx="350.92" cy="516.00" r="2.2"/><circle cx="364.42" cy="516.00" r="2.2"/><circle cx="377.91" cy="516.00" r="2.2"/><circle cx="391.41" cy="516.00" r="2.2"/><circle cx="404.91" cy="516.00" r="2.2"/><circle cx="418.40" cy="516.00" r="2.2"/><circle cx="431.90" cy="516.00" r="2.2"/><circle cx="445.39" cy="516.00" r="2.2"/><circle cx="458.89" cy="516.00" r="2.2"/><circle cx="472.39" cy="516.00" r="2.2"/><circle cx="485.88" cy="516.00" r="2.2"/><circle cx="499.38" cy="516.00" r="2.2"/><circle cx="512.88" cy="516.00" r="2.2"/><circle cx="526.37" cy="516.00" r="2.2"/><circle cx="539.87" cy="516.00" r="2.2"/><circle cx="553.37" cy="516.00" r="2.2"/><circle cx="566.86" cy="516.00" r="2.2"/><circle cx="580.36" cy="516.00" r="2.2"/><circle cx="593.86" cy="516.00" r="2.2"/><circle cx="607.35" cy="516.00" r="2.2"/><circle cx="620.85" cy="516.00" r="2.2"/><circle cx="634.35" cy="516.00" r="2.2"/><circle cx="647.84" cy="516.00" r="2.2"/><circle cx="661.34" cy="516.00" r="2.2"/><circle cx="674.84" cy="516.00" r="2.2"/><circle cx="688.33" cy="516.00" r="2.2"/><circle cx="701.83" cy="516.00" r="2.2"/><circle cx="715.33" cy="516.00" r="2.2"/><circle cx="728.82" cy="516.00" r="2.2"/><circle cx="742.32" cy="516.00" r="2.2"/><circle cx="755.82" cy="516.00" r="2.2"/><circle cx="769.31" cy="516.00" r="2.2"/><circle cx="782.81" cy="516.00" r="2.2"/><circle cx="796.31" cy="516.00" r="2.2"/><circle cx="809.80" cy="516.00" r="2.2"/><circle cx="823.30" cy="516.00" r="2.2"/></g>
<path clip-path="url(#ca)" d="M27.00 516.00C29.70 516.00 37.80 516.00 40.50 516.00C43.20 516.00 51.29 516.00 53.99 516.00C56.69 516.00 64.96 516.00 67.49 516.00C70.36 515.23 78.29 508.78 80.99 508.78C83.69 508.78 91.61 515.23 94.48 516.00C97.01 516.00 105.28 516.00 107.98 516.00C110.68 516.00 118.78 516.00 121.48 516.00C124.18 516.00 133.10 516.00 134.97 516.00C138.50 513.17 145.43 495.17 148.47 494.35C150.83 493.72 158.92 506.34 161.97 508.78C164.32 510.67 172.59 515.23 175.46 516.00C177.99 516.00 186.26 516.00 188.96 516.00C191.66 516.00 199.76 516.00 202.46 516.00C205.16 516.00 214.35 516.00 215.95 516.00C219.74 511.94 226.75 487.14 229.45 487.14C232.15 487.14 240.25 516.00 242.95 516.00C245.65 516.00 253.11 492.48 256.44 487.14C258.51 483.82 267.87 471.60 269.94 472.70C273.27 474.49 280.10 496.22 283.44 501.57C285.50 504.88 293.89 515.19 296.93 516.00C299.29 516.00 308.07 510.67 310.43 508.78C313.47 506.34 320.72 496.07 323.93 494.35C326.12 493.18 334.89 493.68 337.42 494.35C340.29 495.12 348.89 502.65 350.92 501.57C354.29 499.76 362.26 478.77 364.42 479.92C367.66 481.66 373.91 510.66 377.91 516.00C379.31 516.00 388.88 516.00 391.41 516.00C394.28 515.23 402.21 510.23 404.91 508.78C407.60 507.34 415.70 503.01 418.40 501.57C421.10 500.12 429.87 493.27 431.90 494.35C435.27 496.16 441.86 513.17 445.39 516.00C447.26 516.00 456.36 516.00 458.89 516.00C461.76 515.23 469.69 510.23 472.39 508.78C475.09 507.34 483.19 501.57 485.88 501.57C488.58 501.57 496.68 507.34 499.38 508.78C502.08 510.23 510.01 515.23 512.88 516.00C515.41 516.00 523.68 516.00 526.37 516.00C529.07 516.00 537.17 516.00 539.87 516.00C542.57 516.00 551.76 516.00 553.37 516.00C557.16 511.94 564.17 487.14 566.86 487.14C569.56 487.14 576.57 511.94 580.36 516.00C581.97 516.00 591.16 516.00 593.86 516.00C596.56 516.00 604.65 516.00 607.35 516.00C610.05 516.00 618.15 516.00 620.85 516.00C623.55 516.00 631.65 516.00 634.35 516.00C637.05 516.00 645.31 516.00 647.84 516.00C650.71 515.23 658.64 508.78 661.34 508.78C664.04 508.78 671.97 515.23 674.84 516.00C677.37 516.00 686.14 516.00 688.33 516.00C691.54 514.29 699.13 501.57 701.83 501.57C704.53 501.57 712.12 514.29 715.33 516.00C717.52 516.00 726.12 516.00 728.82 516.00C731.52 516.00 739.62 516.00 742.32 516.00C745.02 516.00 753.12 516.00 755.82 516.00C758.52 516.00 766.61 516.00 769.31 516.00C772.01 516.00 780.11 516.00 782.81 516.00C785.51 516.00 793.61 516.00 796.31 516.00C799.01 516.00 807.10 516.00 809.80 516.00C812.50 516.00 820.60 516.00 823.30 516.00" fill="none" stroke="rgb(111,84,153)" stroke-width="1.75" stroke-linejoin="round"/>
<g fill="rgba(111,84,153,0.5)" stroke="rgb(111,84,153)" stroke-width="1.6"><circle cx="27.00" cy="516.00" r="2.2"/><circle cx="40.50" cy="516.00" r="2.2"/><circle cx="53.99" cy="516.00" r="2.2"/><circle cx="67.49" cy="516.00" r="2.2"/><circle cx="80.99" cy="508.78" r="2.2"/><circle cx="94.48" cy="516.00" r="2.2"/><circle cx="107.98" cy="516.00" r="2.2"/><circle cx="121.48" cy="516.00" r="2.2"/><circle cx="134.97" cy="516.00" r="2.2"/><circle cx="148.47" cy="494.35" r="2.2"/><circle cx="161.97" cy="508.78" r="2.2"/><circle cx="175.46" cy="516.00" r="2.2"/><circle cx="188.96" cy="516.00" r="2.2"/><circle cx="202.46" cy="516.00" r="2.2"/><circle cx="215.95" cy="516.00" r="2.2"/><circle cx="229.45" cy="487.14" r="2.2"/><circle cx="242.95" cy="516.00" r="2.2"/><circle cx="256.44" cy="487.14" r="2.2"/><circle cx="269.94" cy="472.70" r="2.2"/><circle cx="283.44" cy="501.57" r="2.2"/><circle cx="296.93" cy="516.00" r="2.2"/><circle cx="310.43" cy="508.78" r="2.2"/><circle cx="323.93" cy="494.35" r="2.2"/><circle cx="337.42" cy="494.35" r="2.2"/><circle cx="350.92" cy="501.57" r="2.2"/><circle cx="364.42" cy="479.92" r="2.2"/><circle cx="377.91" cy="516.00" r="2.2"/><circle cx="391.41" cy="516.00" r="2.2"/><circle cx="404.91" cy="508.78" r="2.2"/><circle cx="418.40" cy="501.57" r="2.2"/><circle cx="431.90" cy="494.35" r="2.2"/><circle cx="445.39" cy="516.00" r="2.2"/><circle cx="458.89" cy="516.00" r="2.2"/><circle cx="472.39" cy="508.78" r="2.2"/><circle cx="485.88" cy="501.57" r="2.2"/><circle cx="499.38" cy="508.78" r="2.2"/><circle cx="512.88" cy="516.00" r="2.2"/><circle cx="526.37" cy="516.00" r="2.2"/><circle cx="539.87" cy="516.00" r="2.2"/><circle cx="553.37" cy="516.00" r="2.2"/><circle cx="566.86" cy="487.14" r="2.2"/><circle cx="580.36" cy="516.00" r="2.2"/><circle cx="593.86" cy="516.00" r="2.2"/><circle cx="607.35" cy="516.00" r="2.2"/><circle cx="620.85" cy="516.00" r="2.2"/><circle cx="634.35" cy="516.00" r="2.2"/><circle cx="647.84" cy="516.00" r="2.2"/><circle cx="661.34" cy="508.78" r="2.2"/><circle cx="674.84" cy="516.00" r="2.2"/><circle cx="688.33" cy="516.00" r="2.2"/><circle cx="701.83" cy="501.57" r="2.2"/><circle cx="715.33" cy="516.00" r="2.2"/><circle cx="728.82" cy="516.00" r="2.2"/><circle cx="742.32" cy="516.00" r="2.2"/><circle cx="755.82" cy="516.00" r="2.2"/><circle cx="769.31" cy="516.00" r="2.2"/><circle cx="782.81" cy="516.00" r="2.2"/><circle cx="796.31" cy="516.00" r="2.2"/><circle cx="809.80" cy="516.00" r="2.2"/><circle cx="823.30" cy="516.00" r="2.2"/></g>
<path clip-path="url(#ca)" d="M27.00 516.00C29.70 516.00 37.80 516.00 40.50 516.00C43.20 516.00 51.29 516.00 53.99 516.00C56.69 516.00 64.79 516.00 67.49 516.00C70.19 516.00 78.29 516.00 80.99 516.00C83.69 516.00 91.95 516.00 94.48 516.00C97.35 515.23 105.96 510.95 107.98 508.78C111.35 505.18 118.78 487.14 121.48 487.14C124.18 487.14 132.27 508.78 134.97 508.78C137.67 508.78 146.32 491.74 148.47 487.14C151.72 480.19 159.98 448.94 161.97 451.06C165.38 454.71 170.98 505.21 175.46 516.00C176.38 516.00 186.26 516.00 188.96 516.00C191.66 516.00 200.26 516.00 202.46 516.00C205.66 514.29 213.25 504.45 215.95 501.57C218.65 498.68 227.38 486.03 229.45 487.14C232.78 488.92 240.25 516.00 242.95 516.00C245.65 516.00 253.44 487.94 256.44 487.14C258.84 486.49 266.41 505.95 269.94 508.78C271.81 510.28 280.91 508.11 283.44 508.78C286.30 509.55 294.91 516.00 296.93 516.00C300.31 514.20 307.39 498.42 310.43 494.35C312.79 491.20 322.10 478.45 323.93 479.92C327.49 482.78 333.85 513.14 337.42 516.00C339.25 516.00 348.22 501.57 350.92 501.57C353.62 501.57 361.21 514.29 364.42 516.00C366.61 516.00 375.21 516.00 377.91 516.00C380.61 516.00 388.71 516.00 391.41 516.00C394.11 516.00 402.21 516.00 404.91 516.00C407.60 516.00 416.21 516.00 418.40 516.00C421.61 514.29 429.20 501.57 431.90 501.57C434.60 501.57 442.19 514.29 445.39 516.00C447.59 516.00 456.70 516.00 458.89 516.00C462.10 514.29 469.35 502.38 472.39 501.57C474.74 500.94 484.13 510.19 485.88 508.78C489.53 505.86 496.94 479.27 499.38 479.92C502.34 480.71 509.31 513.14 512.88 516.00C514.71 516.00 523.17 503.28 526.37 501.57C528.57 500.40 537.68 500.40 539.87 501.57C543.08 503.28 550.16 514.29 553.37 516.00C555.56 516.00 564.17 516.00 566.86 516.00C569.56 516.00 578.96 516.00 580.36 516.00C584.36 510.66 590.90 480.71 593.86 479.92C596.30 479.27 603.56 504.73 607.35 508.78C608.96 510.50 618.32 508.11 620.85 508.78C623.72 509.55 631.48 515.23 634.35 516.00C636.88 516.00 645.14 516.00 647.84 516.00C650.54 516.00 658.64 516.00 661.34 516.00C664.04 516.00 672.14 516.00 674.84 516.00C677.54 516.00 685.63 516.00 688.33 516.00C691.03 516.00 699.30 516.00 701.83 516.00C704.70 515.23 712.63 508.78 715.33 508.78C718.03 508.78 726.12 516.00 728.82 516.00C731.52 516.00 739.62 510.23 742.32 508.78C745.02 507.34 753.46 500.94 755.82 501.57C758.86 502.38 766.11 514.29 769.31 516.00C771.50 516.00 780.11 516.00 782.81 516.00C785.51 516.00 793.61 516.00 796.31 516.00C799.01 516.00 807.27 516.00 809.80 516.00C812.67 515.23 820.60 510.23 823.30 508.78" fill="none" stroke="rgb(23,162,184)" stroke-width="1.75" stroke-linejoin="round"/>
<g fill="rgba(23,162,184,0.5)" stroke="rgb(23,162,184)" stroke-width="1.6"><circle cx="27.00" cy="516.00" r="2.2"/><circle cx="40.50" cy="516.00" r="2.2"/><circle cx="53.99" cy="516.00" r="2.2"/><circle cx="67.49" cy="516.00" r="2.2"/><circle cx="80.99" cy="516.00" r="2.2"/><circle cx="94.48" cy="516.00" r="2.2"/><circle cx="107.98" cy="508.78" r="2.2"/><circle cx="121.48" cy="487.14" r="2.2"/><circle cx="134.97" cy="508.78" r="2.2"/><circle cx="148.47" cy="487.14" r="2.2"/><circle cx="161.97" cy="451.06" r="2.2"/><circle cx="175.46" cy="516.00" r="2.2"/><circle cx="188.96" cy="516.00" r="2.2"/><circle cx="202.46" cy="516.00" r="2.2"/><circle cx="215.95" cy="501.57" r="2.2"/><circle cx="229.45" cy="487.14" r="2.2"/><circle cx="242.95" cy="516.00" r="2.2"/><circle cx="256.44" cy="487.14" r="2.2"/><circle cx="269.94" cy="508.78" r="2.2"/><circle cx="283.44" cy="508.78" r="2.2"/><circle cx="296.93" cy="516.00" r="2.2"/><circle cx="310.43" cy="494.35" r="2.2"/><circle cx="323.93" cy="479.92" r="2.2"/><circle cx="337.42" cy="516.00" r="2.2"/><circle cx="350.92" cy="501.57" r="2.2"/><circle cx="364.42" cy="516.00" r="2.2"/><circle cx="377.91" cy="516.00" r="2.2"/><circle cx="391.41" cy="516.00" r="2.2"/><circle cx="404.91" cy="516.00" r="2.2"/><circle cx="418.40" cy="516.00" r="2.2"/><circle cx="431.90" cy="501.57" r="2.2"/><circle cx="445.39" cy="516.00" r="2.2"/><circle cx="458.89" cy="516.00" r="2.2"/><circle cx="472.39" cy="501.57" r="2.2"/><circle cx="485.88" cy="508.78" r="2.2"/><circle cx="499.38" cy="479.92" r="2.2"/><circle cx="512.88" cy="516.00" r="2.2"/><circle cx="526.37" cy="501.57" r="2.2"/><circle cx="539.87" cy="501.57" r="2.2"/><circle cx="553.37" cy="516.00" r="2.2"/><circle cx="566.86" cy="516.00" r="2.2"/><circle cx="580.36" cy="516.00" r="2.2"/><circle cx="593.86" cy="479.92" r="2.2"/><circle cx="607.35" cy="508.78" r="2.2"/><circle cx="620.85" cy="508.78" r="2.2"/><circle cx="634.35" cy="516.00" r="2.2"/><circle cx="647.84" cy="516.00" r="2.2"/><circle cx="661.34" cy="516.00" r="2.2"/><circle cx="674.84" cy="516.00" r="2.2"/><circle cx="688.33" cy="516.00" r="2.2"/><circle cx="701.83" cy="516.00" r="2.2"/><circle cx="715.33" cy="508.78" r="2.2"/><circle cx="728.82" cy="516.00" r="2.2"/><circle cx="742.32" cy="508.78" r="2.2"/><circle cx="755.82" cy="501.57" r="2.2"/><circle cx="769.31" cy="516.00" r="2.2"/><circle cx="782.81" cy="516.00" r="2.2"/><circle cx="796.31" cy="516.00" r="2.2"/><circle cx="809.80" cy="516.00" r="2.2"/><circle cx="823.30" cy="508.78" r="2.2"/></g>
<path clip-path="url(#ca)" d="M27.00 393.33C29.70 407.76 36.24 451.84 40.50 465.49C41.64 469.16 53.40 483.10 53.99 479.92C58.80 454.24 64.20 328.21 67.49 321.17C69.60 316.66 77.85 418.84 80.99 422.19C83.25 424.61 92.13 348.14 94.48 350.03C97.53 352.47 106.30 451.03 107.98 443.84C111.70 427.94 118.78 234.58 121.48 234.58C124.18 234.58 129.94 406.18 134.97 443.84C135.34 446.59 146.93 439.09 148.47 436.62C152.33 430.43 158.40 403.41 161.97 400.54C163.80 399.08 172.42 414.16 175.46 414.98C177.82 415.61 186.26 407.76 188.96 407.76C191.66 407.76 200.92 416.62 202.46 414.98C206.32 410.84 213.47 386.19 215.95 378.90C218.87 370.31 227.26 333.84 229.45 335.60C232.66 338.17 239.53 396.89 242.95 400.54C244.93 402.66 255.21 360.19 256.44 364.46C260.61 378.95 266.23 484.43 269.94 494.35C271.62 498.86 280.74 448.17 283.44 436.62C286.13 425.08 292.53 388.30 296.93 378.90C297.93 376.75 309.71 381.21 310.43 378.90C315.11 363.89 321.89 287.95 323.93 292.30C327.29 299.50 333.72 425.73 337.42 436.62C339.12 441.61 348.22 371.68 350.92 371.68C353.62 371.68 362.09 438.49 364.42 436.62C367.49 434.16 375.10 350.78 377.91 350.03C380.50 349.34 389.28 432.83 391.41 429.41C394.68 424.17 402.55 303.59 404.91 306.74C407.95 310.80 414.82 454.94 418.40 465.49C420.21 470.82 428.94 387.69 431.90 386.11C434.34 384.81 442.54 450.29 445.39 451.06C447.94 451.74 457.60 405.09 458.89 393.33C463.00 356.02 469.34 210.60 472.39 205.71C474.74 201.94 483.25 350.74 485.88 350.03C488.65 349.29 494.48 224.72 499.38 198.50C499.87 195.86 512.58 202.74 512.88 205.71C517.98 256.14 522.50 442.68 526.37 465.49C527.89 474.43 536.86 366.88 539.87 364.46C542.25 362.55 550.99 445.75 553.37 443.84C556.38 441.42 564.42 363.05 566.86 342.82C569.82 318.31 577.66 220.14 580.36 220.14C583.06 220.14 588.99 320.70 593.86 342.82C594.39 345.23 606.35 340.67 607.35 342.82C611.75 352.22 617.58 397.92 620.85 400.54C622.98 402.25 632.60 361.66 634.35 364.46C638.00 370.32 643.74 435.07 647.84 443.84C649.14 446.62 660.04 427.05 661.34 422.19C665.44 406.85 670.74 351.58 674.84 342.82C676.14 340.04 685.63 364.46 688.33 364.46C691.03 364.46 698.30 345.65 701.83 342.82C703.70 341.32 714.70 340.45 715.33 342.82C720.09 360.66 727.33 453.00 728.82 443.84C732.73 419.81 739.55 178.33 742.32 176.85C744.94 175.44 750.91 387.46 755.82 429.41C756.31 433.64 765.94 409.56 769.31 407.76C771.34 406.68 781.28 412.51 782.81 414.98C786.67 421.17 794.18 452.76 796.31 451.06C799.58 448.43 807.26 392.65 809.80 393.33C812.65 394.09 820.60 445.28 823.30 458.27" fill="none" stroke="rgb(150,150,0)" stroke-width="1.75" stroke-linejoin="round"/>
<g fill="rgba(150,150,0,0.5)" stroke="rgb(150,150,0)" stroke-width="1.6"><circle cx="27.00" cy="393.33" r="2.2"/><circle cx="40.50" cy="465.49" r="2.2"/><circle cx="53.99" cy="479.92" r="2.2"/><circle cx="67.49" cy="321.17" r="2.2"/><circle cx="80.99" cy="422.19" r="2.2"/><circle cx="94.48" cy="350.03" r="2.2"/><circle cx="107.98" cy="443.84" r="2.2"/><circle cx="121.48" cy="234.58" r="2.2"/><circle cx="134.97" cy="443.84" r="2.2"/><circle cx="148.47" cy="436.62" r="2.2"/><circle cx="161.97" cy="400.54" r="2.2"/><circle cx="175.46" cy="414.98" r="2.2"/><circle cx="188.96" cy="407.76" r="2.2"/><circle cx="202.46" cy="414.98" r="2.2"/><circle cx="215.95" cy="378.90" r="2.2"/><circle cx="229.45" cy="335.60" r="2.2"/><circle cx="242.95" cy="400.54" r="2.2"/><circle cx="256.44" cy="364.46" r="2.2"/><circle cx="269.94" cy="494.35" r="2.2"/><circle cx="283.44" cy="436.62" r="2.2"/><circle cx="296.93" cy="378.90" r="2.2"/><circle cx="310.43" cy="378.90" r="2.2"/><circle cx="323.93" cy="292.30" r="2.2"/><circle cx="337.42" cy="436.62" r="2.2"/><circle cx="350.92" cy="371.68" r="2.2"/><circle cx="364.42" cy="436.62" r="2.2"/><circle cx="377.91" cy="350.03" r="2.2"/><circle cx="391.41" cy="429.41" r="2.2"/><circle cx="404.91" cy="306.74" r="2.2"/><circle cx="418.40" cy="465.49" r="2.2"/><circle cx="431.90" cy="386.11" r="2.2"/><circle cx="445.39" cy="451.06" r="2.2"/><circle cx="458.89" cy="393.33" r="2.2"/><circle cx="472.39" cy="205.71" r="2.2"/><circle cx="485.88" cy="350.03" r="2.2"/><circle cx="499.38" cy="198.50" r="2.2"/><circle cx="512.88" cy="205.71" r="2.2"/><circle cx="526.37" cy="465.49" r="2.2"/><circle cx="539.87" cy="364.46" r="2.2"/><circle cx="553.37" cy="443.84" r="2.2"/><circle cx="566.86" cy="342.82" r="2.2"/><circle cx="580.36" cy="220.14" r="2.2"/><circle cx="593.86" cy="342.82" r="2.2"/><circle cx="607.35" cy="342.82" r="2.2"/><circle cx="620.85" cy="400.54" r="2.2"/><circle cx="634.35" cy="364.46" r="2.2"/><circle cx="647.84" cy="443.84" r="2.2"/><circle cx="661.34" cy="422.19" r="2.2"/><circle cx="674.84" cy="342.82" r="2.2"/><circle cx="688.33" cy="364.46" r="2.2"/><circle cx="701.83" cy="342.82" r="2.2"/><circle cx="715.33" cy="342.82" r="2.2"/><circle cx="728.82" cy="443.84" r="2.2"/><circle cx="742.32" cy="176.85" r="2.2"/><circle cx="755.82" cy="429.41" r="2.2"/><circle cx="769.31" cy="407.76" r="2.2"/><circle cx="782.81" cy="414.98" r="2.2"/><circle cx="796.31" cy="451.06" r="2.2"/><circle cx="809.80" cy="393.33" r="2.2"/><circle cx="823.30" cy="458.27" r="2.2"/></g>
<path clip-path="url(#ca)" d="M27.00 516.00C29.70 516.00 37.80 516.00 40.50 516.00C43.20 516.00 51.29 516.00 53.99 516.00C56.69 516.00 64.79 516.00 67.49 516.00C70.19 516.00 78.29 516.00 80.99 516.00C83.69 516.00 91.78 516.00 94.48 516.00C97.18 516.00 105.28 516.00 107.98 516.00C110.68 516.00 118.78 516.00 121.48 516.00C124.18 516.00 132.27 516.00 134.97 516.00C137.67 516.00 145.77 516.00 148.47 516.00C151.17 516.00 159.27 516.00 161.97 516.00C164.67 516.00 172.76 516.00 175.46 516.00C178.16 516.00 186.26 516.00 188.96 516.00C191.66 516.00 199.76 516.00 202.46 516.00C205.16 516.00 213.25 516.00 215.95 516.00C218.65 516.00 226.75 516.00 229.45 516.00C232.15 516.00 240.25 516.00 242.95 516.00C245.65 516.00 253.74 516.00 256.44 516.00C259.14 516.00 267.24 516.00 269.94 516.00C272.64 516.00 280.74 516.00 283.44 516.00C286.13 516.00 294.23 516.00 296.93 516.00C299.63 516.00 307.73 516.00 310.43 516.00C313.13 516.00 321.23 516.00 323.93 516.00C326.62 516.00 334.72 516.00 337.42 516.00C340.12 516.00 348.22 516.00 350.92 516.00C353.62 516.00 361.72 516.00 364.42 516.00C367.11 516.00 375.21 516.00 377.91 516.00C380.61 516.00 388.71 516.00 391.41 516.00C394.11 516.00 402.21 516.00 404.91 516.00C407.60 516.00 415.70 516.00 418.40 516.00C421.10 516.00 429.20 516.00 431.90 516.00C434.60 516.00 442.70 516.00 445.39 516.00C448.09 516.00 456.19 516.00 458.89 516.00C461.59 516.00 469.69 516.00 472.39 516.00C475.09 516.00 483.19 516.00 485.88 516.00C488.58 516.00 496.68 516.00 499.38 516.00C502.08 516.00 510.18 516.00 512.88 516.00C515.58 516.00 523.68 516.00 526.37 516.00C529.07 516.00 537.17 516.00 539.87 516.00C542.57 516.00 550.67 516.00 553.37 516.00C556.07 516.00 564.17 516.00 566.86 516.00C569.56 516.00 577.66 516.00 580.36 516.00C583.06 516.00 591.16 516.00 593.86 516.00C596.56 516.00 604.65 516.00 607.35 516.00C610.05 516.00 618.15 516.00 620.85 516.00C623.55 516.00 631.65 516.00 634.35 516.00C637.05 516.00 645.14 516.00 647.84 516.00C650.54 516.00 658.64 516.00 661.34 516.00C664.04 516.00 672.14 516.00 674.84 516.00C677.54 516.00 685.63 516.00 688.33 516.00C691.03 516.00 699.13 516.00 701.83 516.00C704.53 516.00 712.63 516.00 715.33 516.00C718.03 516.00 726.63 516.00 728.82 516.00C732.03 514.29 739.62 501.57 742.32 501.57C745.02 501.57 752.61 514.29 755.82 516.00C758.01 516.00 766.61 516.00 769.31 516.00C772.01 516.00 780.11 516.00 782.81 516.00C785.51 516.00 793.61 516.00 796.31 516.00C799.01 516.00 807.10 516.00 809.80 516.00C812.50 516.00 820.60 516.00 823.30 516.00" fill="none" stroke="rgb(91,192,222)" stroke-width="1.75" stroke-linejoin="round"/>
<g fill="rgba(91,192,222,0.5)" stroke="rgb(91,192,222)" stroke-width="1.6"><circle cx="27.00" cy="516.00" r="2.2"/><circle cx="40.50" cy="516.00" r="2.2"/><circle cx="53.99" cy="516.00" r="2.2"/><circle cx="67.49" cy="516.00" r="2.2"/><circle cx="80.99" cy="516.00" r="2.2"/><circle cx="94.48" cy="516.00" r="2.2"/><circle cx="107.98" cy="516.00" r="2.2"/><circle cx="121.48" cy="516.00" r="2.2"/><circle cx="134.97" cy="516.00" r="2.2"/><circle cx="148.47" cy="516.00" r="2.2"/><circle cx="161.97" cy="516.00" r="2.2"/><circle cx="175.46" cy="516.00" r="2.2"/><circle cx="188.96" cy="516.00" r="2.2"/><circle cx="202.46" cy="516.00" r="2.2"/><circle cx="215.95" cy="516.00" r="2.2"/><circle cx="229.45" cy="516.00" r="2.2"/><circle cx="242.95" cy="516.00" r="2.2"/><circle cx="256.44" cy="516.00" r="2.2"/><circle cx="269.94" cy="516.00" r="2.2"/><circle cx="283.44" cy="516.00" r="2.2"/><circle cx="296.93" cy="516.00" r="2.2"/><circle cx="310.43" cy="516.00" r="2.2"/><circle cx="323.93" cy="516.00" r="2.2"/><circle cx="337.42" cy="516.00" r="2.2"/><circle cx="350.92" cy="516.00" r="2.2"/><circle cx="364.42" cy="516.00" r="2.2"/><circle cx="377.91" cy="516.00" r="2.2"/><circle cx="391.41" cy="516.00" r="2.2"/><circle cx="404.91" cy="516.00" r="2.2"/><circle cx="418.40" cy="516.00" r="2.2"/><circle cx="431.90" cy="516.00" r="2.2"/><circle cx="445.39" cy="516.00" r="2.2"/><circle cx="458.89" cy="516.00" r="2.2"/><circle cx="472.39" cy="516.00" r="2.2"/><circle cx="485.88" cy="516.00" r="2.2"/><circle cx="499.38" cy="516.00" r="2.2"/><circle cx="512.88" cy="516.00" r="2.2"/><circle cx="526.37" cy="516.00" r="2.2"/><circle cx="539.87" cy="516.00" r="2.2"/><circle cx="553.37" cy="516.00" r="2.2"/><circle cx="566.86" cy="516.00" r="2.2"/><circle cx="580.36" cy="516.00" r="2.2"/><circle cx="593.86" cy="516.00" r="2.2"/><circle cx="607.35" cy="516.00" r="2.2"/><circle cx="620.85" cy="516.00" r="2.2"/><circle cx="634.35" cy="516.00" r="2.2"/><circle cx="647.84" cy="516.00" r="2.2"/><circle cx="661.34" cy="516.00" r="2.2"/><circle cx="674.84" cy="516.00" r="2.2"/><circle cx="688.33" cy="516.00" r="2.2"/><circle cx="701.83" cy="516.00" r="2.2"/><circle cx="715.33" cy="516.00" r="2.2"/><circle cx="728.82" cy="516.00" r="2.2"/><circle cx="742.32" cy="501.57" r="2.2"/><circle cx="755.82" cy="516.00" r="2.2"/><circle cx="769.31" cy="516.00" r="2.2"/><circle cx="782.81" cy="516.00" r="2.2"/><circle cx="796.31" cy="516.00" r="2.2"/><circle cx="809.80" cy="516.00" r="2.2"/><circle cx="823.30" cy="516.00" r="2.2"/></g>
<path clip-path="url(#ca)" d="M27.00 516.00C29.70 516.00 37.80 516.00 40.50 516.00C43.20 516.00 51.29 516.00 53.99 516.00C56.69 516.00 64.79 516.00 67.49 516.00C70.19 516.00 78.29 516.00 80.99 516.00C83.69 516.00 91.78 516.00 94.48 516.00C97.18 516.00 105.28 516.00 107.98 516.00C110.68 516.00 118.78 516.00 121.48 516.00C124.18 516.00 132.27 516.00 134.97 516.00C137.67 516.00 145.77 516.00 148.47 516.00C151.17 516.00 159.27 516.00 161.97 516.00C164.67 516.00 172.76 516.00 175.46 516.00C178.16 516.00 186.26 516.00 188.96 516.00C191.66 516.00 199.76 516.00 202.46 516.00C205.16 516.00 213.25 516.00 215.95 516.00C218.65 516.00 226.75 516.00 229.45 516.00C232.15 516.00 240.25 516.00 242.95 516.00C245.65 516.00 253.74 516.00 256.44 516.00C259.14 516.00 267.24 516.00 269.94 516.00C272.64 516.00 280.74 516.00 283.44 516.00C286.13 516.00 294.23 516.00 296.93 516.00C299.63 516.00 307.73 516.00 310.43 516.00C313.13 516.00 321.23 516.00 323.93 516.00C326.62 516.00 334.72 516.00 337.42 516.00C340.12 516.00 348.39 516.00 350.92 516.00C353.79 515.23 361.72 508.78 364.42 508.78C367.11 508.78 375.04 515.23 377.91 516.00C380.44 516.00 388.71 516.00 391.41 516.00C394.11 516.00 402.21 516.00 404.91 516.00C407.60 516.00 415.70 516.00 418.40 516.00C421.10 516.00 429.20 516.00 431.90 516.00C434.60 516.00 442.70 516.00 445.39 516.00C448.09 516.00 456.19 516.00 458.89 516.00C461.59 516.00 469.69 516.00 472.39 516.00C475.09 516.00 483.35 516.00 485.88 516.00C488.75 515.23 496.68 508.78 499.38 508.78C502.08 508.78 510.01 515.23 512.88 516.00C515.41 516.00 523.84 516.00 526.37 516.00C529.24 515.23 537.17 508.78 539.87 508.78C542.57 508.78 550.50 515.23 553.37 516.00C555.90 516.00 564.17 516.00 566.86 516.00C569.56 516.00 577.66 516.00 580.36 516.00C583.06 516.00 591.16 516.00 593.86 516.00C596.56 516.00 604.65 516.00 607.35 516.00C610.05 516.00 618.15 516.00 620.85 516.00C623.55 516.00 631.65 516.00 634.35 516.00C637.05 516.00 645.14 516.00 647.84 516.00C650.54 516.00 658.64 516.00 661.34 516.00C664.04 516.00 672.14 516.00 674.84 516.00C677.54 516.00 685.63 516.00 688.33 516.00C691.03 516.00 699.13 516.00 701.83 516.00C704.53 516.00 712.63 516.00 715.33 516.00C718.03 516.00 726.12 516.00 728.82 516.00C731.52 516.00 739.62 516.00 742.32 516.00C745.02 516.00 753.12 516.00 755.82 516.00C758.52 516.00 766.61 516.00 769.31 516.00C772.01 516.00 780.11 516.00 782.81 516.00C785.51 516.00 793.61 516.00 796.31 516.00C799.01 516.00 807.10 516.00 809.80 516.00C812.50 516.00 820.60 516.00 823.30 516.00" fill="none" stroke="rgb(7,7,7)" stroke-width="1.75" stroke-linejoin="round"/>
<g fill="rgba(7,7,7,0.5)" stroke="rgb(7,7,7)" stroke-width="1.6"><circle cx="27.00" cy="516.00" r="2.2"/><circle cx="40.50" cy="516.00" r="2.2"/><circle cx="53.99" cy="516.00" r="2.2"/><circle cx="67.49" cy="516.00" r="2.2"/><circle cx="80.99" cy="516.00" r="2.2"/><circle cx="94.48" cy="516.00" r="2.2"/><circle cx="107.98" cy="516.00" r="2.2"/><circle cx="121.48" cy="516.00" r="2.2"/><circle cx="134.97" cy="516.00" r="2.2"/><circle cx="148.47" cy="516.00" r="2.2"/><circle cx="161.97" cy="516.00" r="2.2"/><circle cx="175.46" cy="516.00" r="2.2"/><circle cx="188.96" cy="516.00" r="2.2"/><circle cx="202.46" cy="516.00" r="2.2"/><circle cx="215.95" cy="516.00" r="2.2"/><circle cx="229.45" cy="516.00" r="2.2"/><circle cx="242.95" cy="516.00" r="2.2"/><circle cx="256.44" cy="516.00" r="2.2"/><circle cx="269.94" cy="516.00" r="2.2"/><circle cx="283.44" cy="516.00" r="2.2"/><circle cx="296.93" cy="516.00" r="2.2"/><circle cx="310.43" cy="516.00" r="2.2"/><circle cx="323.93" cy="516.00" r="2.2"/><circle cx="337.42" cy="516.00" r="2.2"/><circle cx="350.92" cy="516.00" r="2.2"/><circle cx="364.42" cy="508.78" r="2.2"/><circle cx="377.91" cy="516.00" r="2.2"/><circle cx="391.41" cy="516.00" r="2.2"/><circle cx="404.91" cy="516.00" r="2.2"/><circle cx="418.40" cy="516.00" r="2.2"/><circle cx="431.90" cy="516.00" r="2.2"/><circle cx="445.39" cy="516.00" r="2.2"/><circle cx="458.89" cy="516.00" r="2.2"/><circle cx="472.39" cy="516.00" r="2.2"/><circle cx="485.88" cy="516.00" r="2.2"/><circle cx="499.38" cy="508.78" r="2.2"/><circle cx="512.88" cy="516.00" r="2.2"/><circle cx="526.37" cy="516.00" r="2.2"/><circle cx="539.87" cy="508.78" r="2.2"/><circle cx="553.37" cy="516.00" r="2.2"/><circle cx="566.86" cy="516.00" r="2.2"/><circle cx="580.36" cy="516.00" r="2.2"/><circle cx="593.86" cy="516.00" r="2.2"/><circle cx="607.35" cy="516.00" r="2.2"/><circle cx="620.85" cy="516.00" r="2.2"/><circle cx="634.35" cy="516.00" r="2.2"/><circle cx="647.84" cy="516.00" r="2.2"/><circle cx="661.34" cy="516.00" r="2.2"/><circle cx="674.84" cy="516.00" r="2.2"/><circle cx="688.33" cy="516.00" r="2.2"/><circle cx="701.83" cy="516.00" r="2.2"/><circle cx="715.33" cy="516.00" r="2.2"/><circle cx="728.82" cy="516.00" r="2.2"/><circle cx="742.32" cy="516.00" r="2.2"/><circle cx="755.82" cy="516.00" r="2.2"/><circle cx="769.31" cy="516.00" r="2.2"/><circle cx="782.81" cy="516.00" r="2.2"/><circle cx="796.31" cy="516.00" r="2.2"/><circle cx="809.80" cy="516.00" r="2.2"/><circle cx="823.30" cy="516.00" r="2.2"/></g>
<path clip-path="url(#ca)" d="M27.00 516.00C29.70 516.00 37.80 516.00 40.50 516.00C43.20 516.00 51.29 516.00 53.99 516.00C56.69 516.00 64.79 516.00 67.49 516.00C70.19 516.00 78.29 516.00 80.99 516.00C83.69 516.00 91.78 516.00 94.48 516.00C97.18 516.00 105.28 516.00 107.98 516.00C110.68 516.00 118.78 516.00 121.48 516.00C124.18 516.00 132.27 516.00 134.97 516.00C137.67 516.00 147.23 516.00 148.47 516.00C152.63 509.33 159.27 472.70 161.97 472.70C164.67 472.70 171.30 509.33 175.46 516.00C176.70 516.00 186.26 516.00 188.96 516.00C191.66 516.00 199.76 516.00 202.46 516.00C205.16 516.00 213.25 516.00 215.95 516.00C218.65 516.00 226.75 516.00 229.45 516.00C232.15 516.00 240.25 516.00 242.95 516.00C245.65 516.00 253.74 516.00 256.44 516.00C259.14 516.00 267.24 516.00 269.94 516.00C272.64 516.00 280.74 516.00 283.44 516.00C286.13 516.00 294.23 516.00 296.93 516.00C299.63 516.00 307.73 516.00 310.43 516.00C313.13 516.00 321.40 516.00 323.93 516.00C326.79 515.23 334.72 508.78 337.42 508.78C340.12 508.78 348.05 515.23 350.92 516.00C353.45 516.00 361.72 516.00 364.42 516.00C367.11 516.00 375.21 516.00 377.91 516.00C380.61 516.00 388.71 516.00 391.41 516.00C394.11 516.00 402.21 516.00 404.91 516.00C407.60 516.00 415.70 516.00 418.40 516.00C421.10 516.00 429.20 516.00 431.90 516.00C434.60 516.00 442.70 516.00 445.39 516.00C448.09 516.00 456.19 516.00 458.89 516.00C461.59 516.00 469.69 516.00 472.39 516.00C475.09 516.00 483.69 516.00 485.88 516.00C489.09 514.29 496.68 501.57 499.38 501.57C502.08 501.57 509.67 514.29 512.88 516.00C515.07 516.00 523.68 516.00 526.37 516.00C529.07 516.00 537.17 516.00 539.87 516.00C542.57 516.00 550.67 516.00 553.37 516.00C556.07 516.00 564.17 516.00 566.86 516.00C569.56 516.00 577.66 516.00 580.36 516.00C583.06 516.00 591.16 516.00 593.86 516.00C596.56 516.00 604.65 516.00 607.35 516.00C610.05 516.00 618.15 516.00 620.85 516.00C623.55 516.00 631.65 516.00 634.35 516.00C637.05 516.00 645.14 516.00 647.84 516.00C650.54 516.00 658.64 516.00 661.34 516.00C664.04 516.00 672.14 516.00 674.84 516.00C677.54 516.00 685.63 516.00 688.33 516.00C691.03 516.00 699.13 516.00 701.83 516.00C704.53 516.00 712.63 516.00 715.33 516.00C718.03 516.00 726.12 516.00 728.82 516.00C731.52 516.00 739.62 516.00 742.32 516.00C745.02 516.00 753.12 516.00 755.82 516.00C758.52 516.00 766.61 516.00 769.31 516.00C772.01 516.00 780.11 516.00 782.81 516.00C785.51 516.00 793.61 516.00 796.31 516.00C799.01 516.00 807.10 516.00 809.80 516.00C812.50 516.00 820.60 516.00 823.30 516.00" fill="none" stroke="rgb(217,83,79)" stroke-width="1.75" stroke-linejoin="round"/>
<g fill="rgba(217,83,79,0.5)" stroke="rgb(217,83,79)" stroke-width="1.6"><circle cx="27.00" cy="516.00" r="2.2"/><circle cx="40.50" cy="516.00" r="2.2"/><circle cx="53.99" cy="516.00" r="2.2"/><circle cx="67.49" cy="516.00" r="2.2"/><circle cx="80.99" cy="516.00" r="2.2"/><circle cx="94.48" cy="516.00" r="2.2"/><circle cx="107.98" cy="516.00" r="2.2"/><circle cx="121.48" cy="516.00" r="2.2"/><circle cx="134.97" cy="516.00" r="2.2"/><circle cx="148.47" cy="516.00" r="2.2"/><circle cx="161.97" cy="472.70" r="2.2"/><circle cx="175.46" cy="516.00" r="2.2"/><circle cx="188.96" cy="516.00" r="2.2"/><circle cx="202.46" cy="516.00" r="2.2"/><circle cx="215.95" cy="516.00" r="2.2"/><circle cx="229.45" cy="516.00" r="2.2"/><circle cx="242.95" cy="516.00" r="2.2"/><circle cx="256.44" cy="516.00" r="2.2"/><circle cx="269.94" cy="516.00" r="2.2"/><circle cx="283.44" cy="516.00" r="2.2"/><circle cx="296.93" cy="516.00" r="2.2"/><circle cx="310.43" cy="516.00" r="2.2"/><circle cx="323.93" cy="516.00" r="2.2"/><circle cx="337.42" cy="508.78" r="2.2"/><circle cx="350.92" cy="516.00" r="2.2"/><circle cx="364.42" cy="516.00" r="2.2"/><circle cx="377.91" cy="516.00" r="2.2"/><circle cx="391.41" cy="516.00" r="2.2"/><circle cx="404.91" cy="516.00" r="2.2"/><circle cx="418.40" cy="516.00" r="2.2"/><circle cx="431.90" cy="516.00" r="2.2"/><circle cx="445.39" cy="516.00" r="2.2"/><circle cx="458.89" cy="516.00" r="2.2"/><circle cx="472.39" cy="516.00" r="2.2"/><circle cx="485.88" cy="516.00" r="2.2"/><circle cx="499.38" cy="501.57" r="2.2"/><circle cx="512.88" cy="516.00" r="2.2"/><circle cx="526.37" cy="516.00" r="2.2"/><circle cx="539.87" cy="516.00" r="2.2"/><circle cx="553.37" cy="516.00" r="2.2"/><circle cx="566.86" cy="516.00" r="2.2"/><circle cx="580.36" cy="516.00" r="2.2"/><circle cx="593.86" cy="516.00" r="2.2"/><circle cx="607.35" cy="516.00" r="2.2"/><circle cx="620.85" cy="516.00" r="2.2"/><circle cx="634.35" cy="516.00" r="2.2"/><circle cx="647.84" cy="516.00" r="2.2"/><circle cx="661.34" cy="516.00" r="2.2"/><circle cx="674.84" cy="516.00" r="2.2"/><circle cx="688.33" cy="516.00" r="2.2"/><circle cx="701.83" cy="516.00" r="2.2"/><circle cx="715.33" cy="516.00" r="2.2"/><circle cx="728.82" cy="516.00" r="2.2"/><circle cx="742.32" cy="516.00" r="2.2"/><circle cx="755.82" cy="516.00" r="2.2"/><circle cx="769.31" cy="516.00" r="2.2"/><circle cx="782.81" cy="516.00" r="2.2"/><circle cx="796.31" cy="516.00" r="2.2"/><circle cx="809.80" cy="516.00" r="2.2"/><circle cx="823.30" cy="516.00" r="2.2"/></g>
<path clip-path="url(#ca)" d="M27.00 393.33C29.70 407.76 36.24 451.84 40.50 465.49C41.64 469.16 53.40 483.10 53.99 479.92C58.80 454.24 64.10 329.31 67.49 321.17C69.50 316.32 77.81 411.58 80.99 414.98C83.21 417.35 92.16 348.17 94.48 350.03C97.56 352.50 106.50 444.56 107.98 436.62C111.89 415.69 118.78 205.71 121.48 205.71C124.18 205.71 130.57 407.20 134.97 436.62C135.97 443.28 144.55 395.54 148.47 386.11C149.95 382.55 160.33 369.93 161.97 371.68C165.73 375.70 171.43 409.58 175.46 414.98C176.82 416.80 186.26 407.76 188.96 407.76C191.66 407.76 201.23 416.94 202.46 414.98C206.63 408.28 213.94 374.71 215.95 364.46C219.33 347.29 227.13 275.39 229.45 277.87C232.53 281.16 239.87 390.04 242.95 393.33C245.27 395.81 254.34 302.81 256.44 306.74C259.74 312.91 265.55 426.26 269.94 443.84C270.95 447.91 280.99 420.86 283.44 414.98C286.39 407.87 293.98 386.00 296.93 378.90C299.38 373.02 309.27 356.24 310.43 350.03C314.67 327.38 321.86 229.06 323.93 234.58C327.26 243.50 333.64 407.03 337.42 422.19C339.04 428.68 347.96 344.40 350.92 342.82C353.36 341.51 361.56 407.00 364.42 407.76C366.96 408.44 375.62 348.20 377.91 350.03C381.02 352.53 389.35 433.26 391.41 429.41C394.75 423.16 402.41 297.52 404.91 299.52C407.81 301.85 415.17 445.01 418.40 451.06C420.57 455.11 429.20 350.03 431.90 350.03C434.60 350.03 441.98 445.58 445.39 451.06C447.38 454.24 457.70 405.10 458.89 393.33C463.10 351.70 469.20 191.74 472.39 184.06C474.59 178.76 483.25 329.09 485.88 328.38C488.65 327.64 494.92 197.13 499.38 176.85C500.32 172.60 512.26 199.42 512.88 205.71C517.66 254.26 522.48 429.18 526.37 451.06C527.88 459.49 537.07 358.00 539.87 357.25C542.46 356.55 551.20 447.32 553.37 443.84C556.60 438.66 563.74 339.88 566.86 313.95C569.13 295.14 577.56 220.89 580.36 220.14C582.95 219.45 589.90 289.80 593.86 306.74C595.30 312.89 605.47 329.55 607.35 335.60C610.87 346.86 617.34 389.57 620.85 393.33C622.74 395.35 632.82 361.60 634.35 364.46C638.22 371.70 643.98 436.60 647.84 443.84C649.37 446.70 659.71 421.09 661.34 414.98C665.11 400.89 670.83 350.31 674.84 342.82C676.23 340.21 686.18 365.61 688.33 364.46C691.58 362.73 697.97 332.52 701.83 328.38C703.37 326.74 714.66 332.76 715.33 335.60C720.06 355.85 727.23 452.79 728.82 443.84C732.63 422.49 739.46 187.12 742.32 184.06C744.86 181.35 750.75 373.01 755.82 414.98C756.15 417.75 766.61 407.76 769.31 407.76C772.01 407.76 781.28 412.51 782.81 414.98C786.67 421.17 794.18 452.76 796.31 451.06C799.58 448.43 807.10 393.33 809.80 393.33C812.50 393.33 820.60 439.51 823.30 451.06" fill="none" stroke="rgb(92,184,92)" stroke-width="1.75" stroke-linejoin="round"/>
<g fill="rgba(92,184,92,0.5)" stroke="rgb(92,184,92)" stroke-width="1.6"><circle cx="27.00" cy="393.33" r="2.2"/><circle cx="40.50" cy="465.49" r="2.2"/><circle cx="53.99" cy="479.92" r="2.2"/><circle cx="67.49" cy="321.17" r="2.2"/><circle cx="80.99" cy="414.98" r="2.2"/><circle cx="94.48" cy="350.03" r="2.2"/><circle cx="107.98" cy="436.62" r="2.2"/><circle cx="121.48" cy="205.71" r="2.2"/><circle cx="134.97" cy="436.62" r="2.2"/><circle cx="148.47" cy="386.11" r="2.2"/><circle cx="161.97" cy="371.68" r="2.2"/><circle cx="175.46" cy="414.98" r="2.2"/><circle cx="188.96" cy="407.76" r="2.2"/><circle cx="202.46" cy="414.98" r="2.2"/><circle cx="215.95" cy="364.46" r="2.2"/><circle cx="229.45" cy="277.87" r="2.2"/><circle cx="242.95" cy="393.33" r="2.2"/><circle cx="256.44" cy="306.74" r="2.2"/><circle cx="269.94" cy="443.84" r="2.2"/><circle cx="283.44" cy="414.98" r="2.2"/><circle cx="296.93" cy="378.90" r="2.2"/><circle cx="310.43" cy="350.03" r="2.2"/><circle cx="323.93" cy="234.58" r="2.2"/><circle cx="337.42" cy="422.19" r="2.2"/><circle cx="350.92" cy="342.82" r="2.2"/><circle cx="364.42" cy="407.76" r="2.2"/><circle cx="377.91" cy="350.03" r="2.2"/><circle cx="391.41" cy="429.41" r="2.2"/><circle cx="404.91" cy="299.52" r="2.2"/><circle cx="418.40" cy="451.06" r="2.2"/><circle cx="431.90" cy="350.03" r="2.2"/><circle cx="445.39" cy="451.06" r="2.2"/><circle cx="458.89" cy="393.33" r="2.2"/><circle cx="472.39" cy="184.06" r="2.2"/><circle cx="485.88" cy="328.38" r="2.2"/><circle cx="499.38" cy="176.85" r="2.2"/><circle cx="512.88" cy="205.71" r="2.2"/><circle cx="526.37" cy="451.06" r="2.2"/><circle cx="539.87" cy="357.25" r="2.2"/><circle cx="553.37" cy="443.84" r="2.2"/><circle cx="566.86" cy="313.95" r="2.2"/><circle cx="580.36" cy="220.14" r="2.2"/><circle cx="593.86" cy="306.74" r="2.2"/><circle cx="607.35" cy="335.60" r="2.2"/><circle cx="620.85" cy="393.33" r="2.2"/><circle cx="634.35" cy="364.46" r="2.2"/><circle cx="647.84" cy="443.84" r="2.2"/><circle cx="661.34" cy="414.98" r="2.2"/><circle cx="674.84" cy="342.82" r="2.2"/><circle cx="688.33" cy="364.46" r="2.2"/><circle cx="701.83" cy="328.38" r="2.2"/><circle cx="715.33" cy="335.60" r="2.2"/><circle cx="728.82" cy="443.84" r="2.2"/><circle cx="742.32" cy="184.06" r="2.2"/><circle cx="755.82" cy="414.98" r="2.2"/><circle cx="769.31" cy="407.76" r="2.2"/><circle cx="782.81" cy="414.98" r="2.2"/><circle cx="796.31" cy="451.06" r="2.2"/><circle cx="809.80" cy="393.33" r="2.2"/><circle cx="823.30" cy="451.06" r="2.2"/></g>
<path clip-path="url(#ca)" d="M27.00 393.33C29.70 407.76 36.24 451.84 40.50 465.49C41.64 469.16 53.40 483.10 53.99 479.92C58.80 454.24 64.10 329.31 67.49 321.17C69.50 316.32 77.81 411.58 80.99 414.98C83.21 417.35 92.16 348.17 94.48 350.03C97.56 352.50 106.50 444.56 107.98 436.62C111.89 415.69 118.78 205.71 121.48 205.71C124.18 205.71 130.57 407.20 134.97 436.62C135.97 443.28 145.94 396.26 148.47 386.11C151.34 374.61 159.79 326.05 161.97 328.38C165.19 331.83 170.87 401.46 175.46 414.98C176.27 417.34 186.26 407.76 188.96 407.76C191.66 407.76 201.23 416.94 202.46 414.98C206.63 408.28 213.94 374.71 215.95 364.46C219.33 347.29 227.13 275.39 229.45 277.87C232.53 281.16 239.87 390.04 242.95 393.33C245.27 395.81 254.34 302.81 256.44 306.74C259.74 312.91 265.55 426.26 269.94 443.84C270.95 447.91 280.99 420.86 283.44 414.98C286.39 407.87 293.98 386.00 296.93 378.90C299.38 373.02 309.27 356.24 310.43 350.03C314.67 327.38 321.81 229.49 323.93 234.58C327.21 242.48 333.58 399.58 337.42 414.98C338.98 421.22 347.93 344.41 350.92 342.82C353.33 341.53 361.55 399.78 364.42 400.54C366.95 401.22 375.79 347.76 377.91 350.03C381.19 353.53 389.35 433.26 391.41 429.41C394.75 423.16 402.41 297.52 404.91 299.52C407.81 301.85 415.17 445.01 418.40 451.06C420.57 455.11 429.20 350.03 431.90 350.03C434.60 350.03 441.98 445.58 445.39 451.06C447.38 454.24 457.70 405.10 458.89 393.33C463.10 351.70 469.20 191.74 472.39 184.06C474.59 178.76 483.43 331.01 485.88 328.38C488.83 325.24 495.23 174.06 499.38 155.20C500.63 155.20 511.93 195.33 512.88 205.71C517.33 254.50 522.56 430.65 526.37 451.06C527.96 459.52 537.07 350.78 539.87 350.03C542.47 349.34 551.10 446.87 553.37 443.84C556.50 439.66 563.74 339.88 566.86 313.95C569.13 295.14 577.56 220.89 580.36 220.14C582.95 219.45 589.90 289.80 593.86 306.74C595.30 312.89 605.47 329.55 607.35 335.60C610.87 346.86 617.34 389.57 620.85 393.33C622.74 395.35 632.82 361.60 634.35 364.46C638.22 371.70 643.98 436.60 647.84 443.84C649.37 446.70 659.71 421.09 661.34 414.98C665.11 400.89 670.83 350.31 674.84 342.82C676.23 340.21 686.18 365.61 688.33 364.46C691.58 362.73 697.97 332.52 701.83 328.38C703.37 326.74 714.66 332.76 715.33 335.60C720.06 355.85 727.29 453.28 728.82 443.84C732.69 420.08 739.47 172.68 742.32 169.63C744.87 166.91 750.73 370.14 755.82 414.98C756.13 417.77 766.61 407.76 769.31 407.76C772.01 407.76 781.28 412.51 782.81 414.98C786.67 421.17 794.18 452.76 796.31 451.06C799.58 448.43 807.10 393.33 809.80 393.33C812.50 393.33 820.60 439.51 823.30 451.06" fill="none" stroke="rgb(102,153,255)" stroke-width="1.75" stroke-linejoin="round"/>
<g fill="rgba(102,153,255,0.5)" stroke="rgb(102,153,255)" stroke-width="1.6"><circle cx="27.00" cy="393.33" r="2.2"/><circle cx="40.50" cy="465.49" r="2.2"/><circle cx="53.99" cy="479.92" r="2.2"/><circle cx="67.49" cy="321.17" r="2.2"/><circle cx="80.99" cy="414.98" r="2.2"/><circle cx="94.48" cy="350.03" r="2.2"/><circle cx="107.98" cy="436.62" r="2.2"/><circle cx="121.48" cy="205.71" r="2.2"/><circle cx="134.97" cy="436.62" r="2.2"/><circle cx="148.47" cy="386.11" r="2.2"/><circle cx="161.97" cy="328.38" r="2.2"/><circle cx="175.46" cy="414.98" r="2.2"/><circle cx="188.96" cy="407.76" r="2.2"/><circle cx="202.46" cy="414.98" r="2.2"/><circle cx="215.95" cy="364.46" r="2.2"/><circle cx="229.45" cy="277.87" r="2.2"/><circle cx="242.95" cy="393.33" r="2.2"/><circle cx="256.44" cy="306.74" r="2.2"/><circle cx="269.94" cy="443.84" r="2.2"/><circle cx="283.44" cy="414.98" r="2.2"/><circle cx="296.93" cy="378.90" r="2.2"/><circle cx="310.43" cy="350.03" r="2.2"/><circle cx="323.93" cy="234.58" r="2.2"/><circle cx="337.42" cy="414.98" r="2.2"/><circle cx="350.92" cy="342.82" r="2.2"/><circle cx="364.42" cy="400.54" r="2.2"/><circle cx="377.91" cy="350.03" r="2.2"/><circle cx="391.41" cy="429.41" r="2.2"/><circle cx="404.91" cy="299.52" r="2.2"/><circle cx="418.40" cy="451.06" r="2.2"/><circle cx="431.90" cy="350.03" r="2.2"/><circle cx="445.39" cy="451.06" r="2.2"/><circle cx="458.89" cy="393.33" r="2.2"/><circle cx="472.39" cy="184.06" r="2.2"/><circle cx="485.88" cy="328.38" r="2.2"/><circle cx="499.38" cy="155.20" r="2.2"/><circle cx="512.88" cy="205.71" r="2.2"/><circle cx="526.37" cy="451.06" r="2.2"/><circle cx="539.87" cy="350.03" r="2.2"/><circle cx="553.37" cy="443.84" r="2.2"/><circle cx="566.86" cy="313.95" r="2.2"/><circle cx="580.36" cy="220.14" r="2.2"/><circle cx="593.86" cy="306.74" r="2.2"/><circle cx="607.35" cy="335.60" r="2.2"/><circle cx="620.85" cy="393.33" r="2.2"/><circle cx="634.35" cy="364.46" r="2.2"/><circle cx="647.84" cy="443.84" r="2.2"/><circle cx="661.34" cy="414.98" r="2.2"/><circle cx="674.84" cy="342.82" r="2.2"/><circle cx="688.33" cy="364.46" r="2.2"/><circle cx="701.83" cy="328.38" r="2.2"/><circle cx="715.33" cy="335.60" r="2.2"/><circle cx="728.82" cy="443.84" r="2.2"/><circle cx="742.32" cy="169.63" r="2.2"/><circle cx="755.82" cy="414.98" r="2.2"/><circle cx="769.31" cy="407.76" r="2.2"/><circle cx="782.81" cy="414.98" r="2.2"/><circle cx="796.31" cy="451.06" r="2.2"/><circle cx="809.80" cy="393.33" r="2.2"/><circle cx="823.30" cy="451.06" r="2.2"/></g>
<rect x="25.05" y="139.8" width="29.1" height="8.5" fill="rgba(102,153,255,0.1)" stroke="rgb(102,153,255)" stroke-width="1.5"/>
<text x="59.2" y="146.0" class="lg">Total</text>
<rect x="86.35" y="139.8" width="29.1" height="8.5" fill="rgba(92,184,92,0.1)" stroke="rgb(92,184,92)" stroke-width="1.5"/>
<text x="120.4" y="146.0" class="lg">No Error</text>
<rect x="162.05" y="139.8" width="29.1" height="8.5" fill="rgba(217,83,79,0.1)" stroke="rgb(217,83,79)" stroke-width="1.5"/>
<text x="196.2" y="146.0" class="lg">Server Failure</text>
<rect x="260.45" y="139.8" width="29.1" height="8.5" fill="rgba(7,7,7,0.1)" stroke="rgb(7,7,7)" stroke-width="1.5"/>
<text x="294.5" y="146.0" class="lg">NX Domain</text>
<rect x="348.75" y="139.8" width="29.1" height="8.5" fill="rgba(91,192,222,0.1)" stroke="rgb(91,192,222)" stroke-width="1.5"/>
<text x="382.5" y="146.0" class="lg">Refused</text>
<rect x="425.55" y="139.8" width="29.1" height="8.5" fill="rgba(150,150,0,0.1)" stroke="rgb(150,150,0)" stroke-width="1.5"/>
<text x="459.5" y="146.0" class="lg">Authoritative</text>
<rect x="516.55" y="139.8" width="29.1" height="8.5" fill="rgba(23,162,184,0.1)" stroke="rgb(23,162,184)" stroke-width="1.5"/>
<text x="550.5" y="146.0" class="lg">Recursive</text>
<rect x="599.05" y="139.8" width="29.1" height="8.5" fill="rgba(111,84,153,0.1)" stroke="rgb(111,84,153)" stroke-width="1.5"/>
<text x="633.0" y="146.0" class="lg">Cached</text>
<rect x="673.05" y="139.8" width="29.1" height="8.5" fill="rgba(255,165,0,0.1)" stroke="rgb(255,165,0)" stroke-width="1.5"/>
<text x="707.0" y="146.0" class="lg">Blocked</text>
<rect x="747.05" y="139.8" width="29.1" height="8.5" fill="rgba(51,122,183,0.1)" stroke="rgb(51,122,183)" stroke-width="1.5"/>
<text x="781.0" y="146.0" class="lg">Clients</text>
<rect x="5.08" y="69.4" width="79.7" height="48.4" fill="#8cb2ff"/>
<rect x="87.48" y="69.4" width="79.7" height="48.4" fill="#85ca85"/>
<rect x="169.88" y="69.4" width="79.7" height="48.4" fill="#e27e7b"/>
<rect x="252.28" y="69.4" width="79.7" height="48.4" fill="#4a4a4a"/>
<rect x="334.68" y="69.4" width="79.7" height="48.4" fill="#84d0e6"/>
<rect x="417.08" y="69.4" width="79.7" height="48.4" fill="#b0b040"/>
<rect x="499.48" y="69.4" width="79.7" height="48.4" fill="#51b9ca"/>
<rect x="581.88" y="69.4" width="79.7" height="48.4" fill="#937fb3"/>
<rect x="664.28" y="69.4" width="79.7" height="48.4" fill="#ffbb40"/>
<rect x="746.68" y="69.4" width="79.7" height="48.4" fill="#669bc9"/>
</svg>
<div class="wm">掘金技术社区 @ 编程乐趣</div>
</div></body></html>
